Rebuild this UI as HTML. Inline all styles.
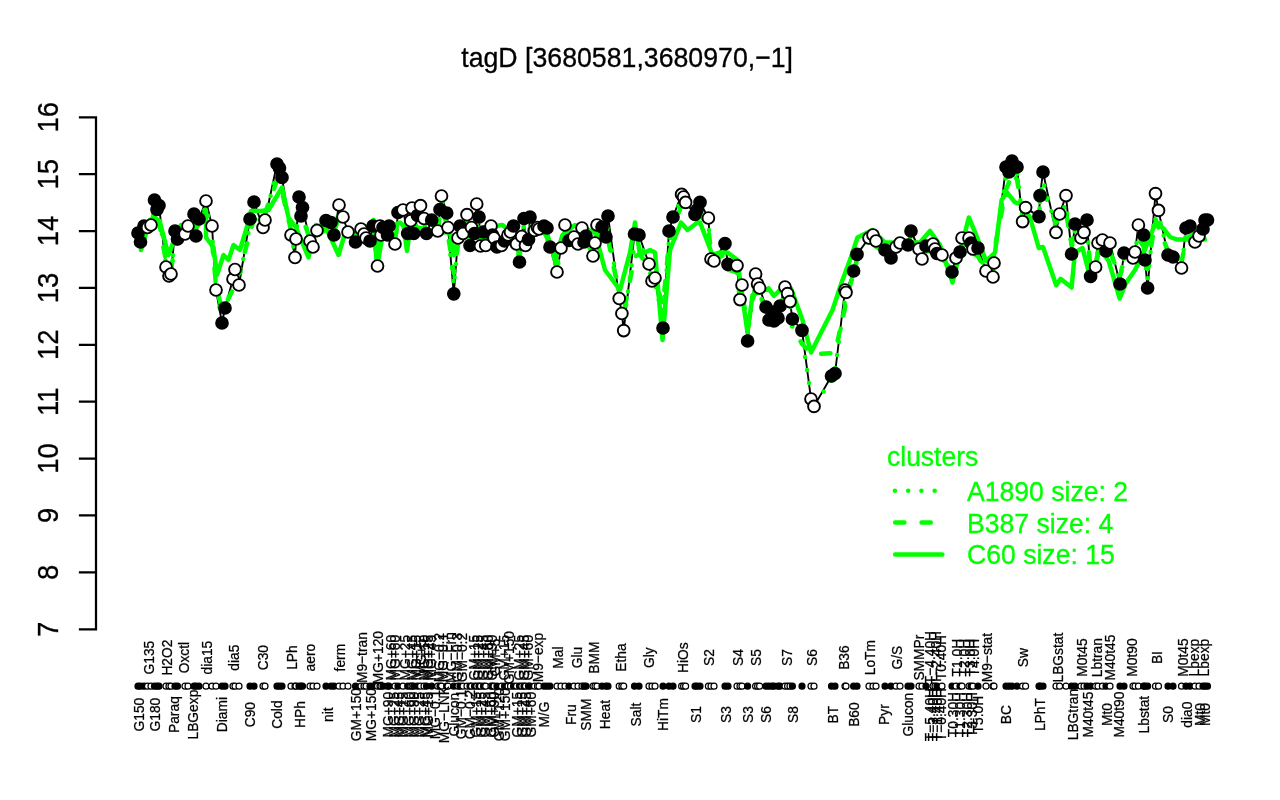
<!DOCTYPE html><html><head><meta charset="utf-8"><title>tagD</title><style>
html,body{margin:0;padding:0;background:#fff;}
svg{display:block;will-change:transform;}
text{-webkit-font-smoothing:antialiased;}
text{font-family:"Liberation Sans",Arial,Helvetica,sans-serif;}
</style></head><body>
<svg width="1280" height="800" viewBox="0 0 1280 800">
<rect width="1280" height="800" fill="#fff"/>
<text transform="translate(627.1,67) scale(1,1.065)" font-size="26.7" text-anchor="middle" fill="#000" stroke="#000" stroke-width="0.3">tagD [3680581,3680970,−1]</text>
<path d="M96,117.25V629.25M80,629.25H96M80,572.36H96M80,515.47H96M80,458.58H96M80,401.69H96M80,344.81H96M80,287.92H96M80,231.03H96M80,174.14H96M80,117.25H96" stroke="#000" stroke-width="2.25" fill="none" stroke-linecap="square"/>
<text transform="translate(58.1,629.25) rotate(-90) scale(1,1.065)" font-size="27.5" text-anchor="middle" stroke="#000" stroke-width="0.3">7</text>
<text transform="translate(58.1,572.36) rotate(-90) scale(1,1.065)" font-size="27.5" text-anchor="middle" stroke="#000" stroke-width="0.3">8</text>
<text transform="translate(58.1,515.47) rotate(-90) scale(1,1.065)" font-size="27.5" text-anchor="middle" stroke="#000" stroke-width="0.3">9</text>
<text transform="translate(58.1,458.58) rotate(-90) scale(1,1.065)" font-size="27.5" text-anchor="middle" stroke="#000" stroke-width="0.3">10</text>
<text transform="translate(58.1,401.69) rotate(-90) scale(1,1.065)" font-size="27.5" text-anchor="middle" stroke="#000" stroke-width="0.3">11</text>
<text transform="translate(58.1,344.81) rotate(-90) scale(1,1.065)" font-size="27.5" text-anchor="middle" stroke="#000" stroke-width="0.3">12</text>
<text transform="translate(58.1,287.92) rotate(-90) scale(1,1.065)" font-size="27.5" text-anchor="middle" stroke="#000" stroke-width="0.3">13</text>
<text transform="translate(58.1,231.03) rotate(-90) scale(1,1.065)" font-size="27.5" text-anchor="middle" stroke="#000" stroke-width="0.3">14</text>
<text transform="translate(58.1,174.14) rotate(-90) scale(1,1.065)" font-size="27.5" text-anchor="middle" stroke="#000" stroke-width="0.3">15</text>
<text transform="translate(58.1,117.25) rotate(-90) scale(1,1.065)" font-size="27.5" text-anchor="middle" stroke="#000" stroke-width="0.3">16</text>
<path d="M138.0,233.0 L140.5,242.0 L144.0,226.0 L147.5,227.5 L151.0,225.0 L154.5,200.0 L157.0,209.5 L159.0,205.5 L166.0,267.0 L169.0,276.0 L171.0,274.0 L175.0,231.0 L177.5,239.0 L185.0,234.0 L188.0,226.0 L194.0,214.0 L196.0,236.0 L199.0,219.0 L206.0,201.0 L212.0,226.0 L216.0,290.0 L222.0,323.0 L225.0,308.0 L233.0,279.0 L235.0,269.5 L239.0,285.0 L250.0,219.0 L254.0,202.0 L263.0,227.5 L265.0,220.0 L277.0,164.0 L279.5,168.0 L282.0,177.5 L291.0,235.0 L295.0,257.5 L296.0,239.0 L299.0,197.0 L301.0,216.0 L302.5,207.5 L310.0,241.0 L313.0,247.0 L317.0,230.5 L326.0,220.5 L331.0,222.5 L334.0,235.0 L339.0,205.0 L343.0,217.0 L348.0,232.0 L355.5,242.0 L361.0,229.0 L364.0,234.0 L366.0,238.0 L370.0,241.0 L373.0,226.0 L377.5,266.0 L380.0,226.0 L381.0,235.0 L383.0,227.5 L387.5,235.0 L389.0,226.0 L395.0,244.0 L398.0,212.5 L403.0,210.0 L407.7,233.5 L410.7,220.7 L412.0,208.0 L413.7,233.5 L417.5,215.5 L420.5,205.7 L424.0,218.5 L426.5,233.5 L431.7,220.0 L437.7,231.0 L440.0,209.5 L441.5,196.0 L446.7,213.0 L448.0,227.5 L453.8,293.8 L458.0,238.0 L460.0,226.0 L463.0,233.5 L467.0,214.7 L470.0,245.5 L471.5,227.5 L474.5,233.5 L476.7,204.0 L479.0,217.0 L480.5,246.0 L483.5,232.0 L485.7,245.5 L491.0,226.0 L492.5,235.0 L494.0,238.0 L497.0,247.0 L501.5,245.5 L504.5,241.0 L508.0,235.0 L510.5,232.0 L513.5,226.0 L516.5,244.0 L519.5,262.0 L521.7,236.5 L524.0,218.5 L525.5,245.5 L528.5,239.5 L530.0,217.0 L534.5,230.5 L537.5,227.5 L539.0,229.0 L544.0,226.0 L547.0,228.0 L550.0,247.0 L557.0,272.0 L561.0,248.0 L565.0,225.0 L569.0,240.5 L574.0,237.0 L578.0,244.0 L582.0,228.0 L584.0,242.0 L586.0,236.0 L593.0,256.0 L595.0,243.0 L597.0,225.0 L602.0,227.0 L606.0,237.0 L608.0,216.0 L619.2,298.5 L621.9,313.5 L623.7,330.6 L634.5,234.0 L639.0,235.0 L649.0,264.0 L652.0,281.0 L655.0,278.0 L663.0,328.0 L669.0,231.0 L673.0,217.0 L681.6,194.4 L683.6,197.0 L685.6,202.4 L695.0,214.4 L697.0,210.0 L700.0,202.4 L708.4,218.0 L711.0,259.0 L714.0,261.0 L725.0,243.6 L728.0,264.4 L737.0,265.6 L740.0,299.6 L742.0,285.0 L747.6,341.0 L755.6,274.0 L757.6,284.0 L759.6,288.0 L766.0,307.0 L769.0,320.0 L772.0,312.0 L774.0,321.0 L778.0,318.0 L780.0,306.0 L785.0,287.0 L787.6,293.6 L790.0,301.6 L792.4,319.0 L802.0,330.4 L811.0,399.0 L814.0,406.4 L831.5,376.0 L835.0,373.5 L845.0,290.0 L846.0,292.4 L853.6,271.0 L857.0,254.4 L869.0,238.0 L873.0,235.0 L876.0,241.0 L885.0,250.0 L891.0,258.0 L896.0,247.0 L900.0,243.0 L908.0,245.0 L911.0,231.0 L919.0,249.0 L922.0,259.0 L926.0,246.0 L933.0,244.0 L935.0,249.0 L937.0,253.5 L942.0,255.0 L952.0,272.0 L956.0,258.0 L960.0,252.0 L962.0,238.0 L969.0,238.0 L971.0,243.0 L973.0,249.0 L978.0,248.0 L986.0,271.0 L993.0,277.0 L994.0,263.0 L1006.0,167.0 L1009.0,172.0 L1012.0,161.0 L1017.0,167.0 L1022.6,221.6 L1025.6,207.6 L1039.0,216.6 L1040.0,195.6 L1043.0,172.0 L1056.0,232.4 L1059.6,214.0 L1066.0,195.6 L1071.6,254.0 L1075.0,224.0 L1081.0,238.0 L1084.0,232.4 L1087.0,220.0 L1090.6,276.4 L1095.6,267.0 L1098.0,243.0 L1102.4,240.0 L1106.0,251.0 L1110.0,243.0 L1120.0,284.0 L1124.0,253.0 L1133.0,258.0 L1135.0,252.0 L1138.4,225.0 L1143.6,235.0 L1145.0,260.0 L1147.6,288.0 L1155.5,193.6 L1158.5,210.4 L1168.0,255.0 L1173.0,257.0 L1181.5,268.0 L1186.0,228.0 L1190.0,226.0 L1195.0,242.0 L1199.0,236.0 L1203.0,229.0 L1205.0,220.0 L1207.5,220.0" stroke="#000" stroke-width="1.9" fill="none" stroke-linejoin="round"/>
<path d="M138.0,237.3 L140.5,241.6 L144.0,232.1 L147.5,230.0 L151.0,225.7 L154.5,210.1 L157.0,218.9 L159.0,221.2 L166.0,261.7 L169.0,268.6 L171.0,270.5 L175.0,243.9 L177.5,243.8 L185.0,235.7 L188.0,231.7 L194.0,223.3 L196.0,232.4 L199.0,223.1 L206.0,220.0 L212.0,241.6 L216.0,284.8 L222.0,310.0 L225.0,305.7 L233.0,289.3 L235.0,274.7 L239.0,273.7 L250.0,232.7 L254.0,218.9 L263.0,222.1 L265.0,213.3 L277.0,180.3 L279.5,183.2 L282.0,191.8 L291.0,230.2 L295.0,245.2 L296.0,238.5 L299.0,212.9 L301.0,221.8 L302.5,217.9 L310.0,239.3 L313.0,243.0 L317.0,235.3 L326.0,229.3 L331.0,226.6 L334.0,232.2 L339.0,216.8 L343.0,225.1 L348.0,232.8 L355.5,241.0 L361.0,235.7 L364.0,239.3 L366.0,240.0 L370.0,245.0 L373.0,236.0 L377.5,257.8 L380.0,234.5 L381.0,240.3 L383.0,232.6 L387.5,238.3 L389.0,231.3 L395.0,239.7 L398.0,222.2 L403.0,220.4 L407.7,230.0 L410.7,224.9 L412.0,218.4 L413.7,229.9 L417.5,219.8 L420.5,216.7 L424.0,222.6 L426.5,232.2 L431.7,225.1 L437.7,229.2 L440.0,215.5 L441.5,208.7 L446.7,223.7 L448.0,234.3 L453.8,273.4 L458.0,244.6 L460.0,236.8 L463.0,236.6 L467.0,225.3 L470.0,242.9 L471.5,230.4 L474.5,233.9 L476.7,217.7 L479.0,225.3 L480.5,242.3 L483.5,236.6 L485.7,245.6 L491.0,234.2 L492.5,240.5 L494.0,242.1 L497.0,248.4 L501.5,247.6 L504.5,244.6 L508.0,239.4 L510.5,237.6 L513.5,236.2 L516.5,246.2 L519.5,254.9 L521.7,242.7 L524.0,232.4 L525.5,243.2 L528.5,239.3 L530.0,227.8 L534.5,233.7 L537.5,230.8 L539.0,232.6 L544.0,232.5 L547.0,237.6 L550.0,249.7 L557.0,263.4 L561.0,251.3 L565.0,237.8 L569.0,243.8 L574.0,240.1 L578.0,245.4 L582.0,236.2 L584.0,245.6 L586.0,242.2 L593.0,253.0 L595.0,244.5 L597.0,234.7 L602.0,232.2 L606.0,242.7 L608.0,239.1 L619.2,293.8 L621.9,301.8 L623.7,312.9 L634.5,256.6 L639.0,254.3 L649.0,265.5 L652.0,283.3 L655.0,281.3 L663.0,304.6 L669.0,243.4 L673.0,228.4 L681.6,204.7 L683.6,204.6 L685.6,207.0 L695.0,214.3 L697.0,213.7 L700.0,214.7 L708.4,227.4 L711.0,253.0 L714.0,259.7 L725.0,254.4 L728.0,269.5 L737.0,272.3 L740.0,299.8 L742.0,292.6 L747.6,325.1 L755.6,287.2 L757.6,294.7 L759.6,295.0 L766.0,308.8 L769.0,319.3 L772.0,317.6 L774.0,322.5 L778.0,317.9 L780.0,309.6 L785.0,297.4 L787.6,301.1 L790.0,307.7 L792.4,327.4 L802.0,343.8 L811.0,353.8 L814.0,354.3 L831.5,353.2 L835.0,352.7 L845.0,307.8 L846.0,298.1 L853.6,274.2 L857.0,260.1 L869.0,246.4 L873.0,242.9 L876.0,246.5 L885.0,252.3 L891.0,257.4 L896.0,251.7 L900.0,247.8 L908.0,248.1 L911.0,241.5 L919.0,251.7 L922.0,257.1 L926.0,251.5 L933.0,250.8 L935.0,253.2 L937.0,258.0 L942.0,260.1 L952.0,269.7 L956.0,260.6 L960.0,255.8 L962.0,245.5 L969.0,244.7 L971.0,247.1 L973.0,253.4 L978.0,256.3 L986.0,270.8 L993.0,266.7 L994.0,252.1 L1006.0,189.4 L1009.0,182.3 L1012.0,172.5 L1017.0,179.5 L1022.6,213.5 L1025.6,208.9 L1039.0,214.3 L1040.0,203.8 L1043.0,191.4 L1056.0,222.7 L1059.6,217.8 L1066.0,212.4 L1071.6,245.0 L1075.0,230.2 L1081.0,240.1 L1084.0,239.0 L1087.0,236.0 L1090.6,267.5 L1095.6,263.0 L1098.0,252.6 L1102.4,248.0 L1106.0,255.5 L1110.0,252.0 L1120.0,276.2 L1124.0,259.2 L1133.0,260.4 L1135.0,252.7 L1138.4,238.4 L1143.6,246.6 L1145.0,255.1 L1147.6,269.2 L1155.5,219.1 L1158.5,228.1 L1168.0,250.8 L1173.0,255.0 L1181.5,262.5 L1186.0,239.3 L1190.0,236.3 L1195.0,241.6 L1199.0,237.6 L1203.0,233.2 L1205.0,226.8 L1207.5,225.4" stroke="#00ff00" stroke-width="4.5" fill="none" stroke-dasharray="9.2 17.2" stroke-linecap="round" stroke-linejoin="round"/>
<path d="M138.0,236.1 L140.5,241.9 L144.0,229.5 L147.5,229.2 L151.0,225.1 L154.5,204.9 L157.0,210.4 L159.0,213.0 L166.0,264.6 L169.0,277.1 L171.0,272.6 L175.0,237.2 L177.5,239.9 L185.0,235.8 L188.0,227.7 L194.0,218.8 L196.0,234.8 L199.0,220.9 L206.0,206.6 L212.0,231.2 L216.0,289.4 L222.0,321.0 L225.0,308.8 L233.0,282.6 L235.0,273.6 L239.0,280.2 L250.0,225.1 L254.0,207.5 L263.0,226.8 L265.0,218.0 L277.0,171.0 L279.5,170.5 L282.0,183.5 L291.0,234.1 L295.0,256.1 L296.0,239.0 L299.0,204.1 L301.0,215.7 L302.5,213.0 L310.0,240.7 L313.0,247.1 L317.0,233.0 L326.0,223.5 L331.0,225.4 L334.0,233.5 L339.0,210.5 L343.0,219.2 L348.0,233.6 L355.5,242.1 L361.0,232.5 L364.0,235.9 L366.0,239.9 L370.0,241.5 L373.0,232.6 L377.5,261.3 L380.0,232.1 L381.0,235.6 L383.0,230.8 L387.5,235.6 L389.0,230.2 L395.0,241.9 L398.0,216.9 L403.0,214.2 L407.7,232.5 L410.7,222.7 L412.0,213.2 L413.7,231.9 L417.5,218.2 L420.5,209.6 L424.0,220.7 L426.5,233.1 L431.7,224.0 L437.7,230.3 L440.0,212.2 L441.5,200.5 L446.7,214.8 L448.0,233.8 L453.8,285.6 L458.0,243.6 L460.0,229.6 L463.0,233.3 L467.0,220.8 L470.0,243.4 L471.5,231.5 L474.5,232.5 L476.7,209.5 L479.0,220.3 L480.5,244.4 L483.5,236.3 L485.7,244.8 L491.0,230.4 L492.5,236.5 L494.0,240.5 L497.0,248.1 L501.5,247.2 L504.5,242.9 L508.0,237.2 L510.5,233.8 L513.5,230.0 L516.5,246.0 L519.5,260.4 L521.7,239.1 L524.0,224.2 L525.5,244.8 L528.5,240.1 L530.0,222.0 L534.5,231.1 L537.5,229.9 L539.0,230.6 L544.0,228.4 L547.0,231.4 L550.0,249.5 L557.0,269.9 L561.0,250.1 L565.0,230.2 L569.0,240.9 L574.0,239.9 L578.0,244.1 L582.0,232.5 L584.0,242.3 L586.0,240.2 L593.0,255.2 L595.0,244.6 L597.0,228.7 L602.0,229.7 L606.0,236.4 L608.0,226.6 L619.2,294.9 L621.9,315.7 L623.7,323.1 L634.5,244.1 L639.0,239.3 L649.0,265.0 L652.0,281.3 L655.0,284.4 L663.0,317.8 L669.0,239.9 L673.0,218.3 L681.6,198.5 L683.6,199.2 L685.6,205.0 L695.0,215.0 L697.0,211.7 L700.0,206.3 L708.4,222.1 L711.0,257.8 L714.0,261.4 L725.0,248.8 L728.0,264.8 L737.0,270.3 L740.0,297.6 L742.0,292.9 L747.6,332.8 L755.6,282.4 L757.6,285.5 L759.6,291.2 L766.0,308.5 L769.0,320.2 L772.0,315.4 L774.0,322.0 L778.0,319.2 L780.0,307.4 L785.0,291.1 L787.6,295.7 L790.0,304.4 L792.4,320.5 L802.0,337.2 L811.0,395.9 L814.0,405.2 L831.5,380.3 L835.0,368.8 L845.0,299.2 L846.0,292.4 L853.6,273.4 L857.0,256.4 L869.0,241.1 L873.0,237.8 L876.0,243.2 L885.0,251.9 L891.0,258.4 L896.0,249.6 L900.0,245.5 L908.0,245.7 L911.0,235.7 L919.0,250.3 L922.0,259.1 L926.0,248.9 L933.0,246.6 L935.0,251.0 L937.0,255.2 L942.0,258.3 L952.0,271.4 L956.0,260.7 L960.0,253.3 L962.0,241.2 L969.0,240.4 L971.0,245.1 L973.0,250.4 L978.0,252.0 L986.0,271.6 L993.0,277.3 L994.0,258.2 L1006.0,177.4 L1009.0,172.7 L1012.0,164.4 L1017.0,173.1 L1022.6,217.9 L1025.6,211.5 L1039.0,216.1 L1040.0,197.4 L1043.0,181.0 L1056.0,227.8 L1059.6,216.0 L1066.0,204.0 L1071.6,248.6 L1075.0,229.7 L1081.0,238.4 L1084.0,233.8 L1087.0,227.7 L1090.6,272.9 L1095.6,267.8 L1098.0,246.8 L1102.4,243.2 L1106.0,251.4 L1110.0,249.1 L1120.0,280.0 L1124.0,258.0 L1133.0,259.1 L1135.0,252.2 L1138.4,230.1 L1143.6,238.2 L1145.0,262.2 L1147.6,279.8 L1155.5,204.9 L1158.5,214.7 L1168.0,253.4 L1173.0,259.8 L1181.5,265.8 L1186.0,233.2 L1190.0,229.5 L1195.0,242.2 L1199.0,237.9 L1203.0,230.8 L1205.0,222.8 L1207.5,222.0" stroke="#00ff00" stroke-width="4.5" fill="none" stroke-dasharray="0 13.2" stroke-linecap="round" stroke-linejoin="round"/>
<path d="M141.0,250.0 L150.0,220.0 L155.0,217.5 L160.0,222.5 L168.5,255.0 L176.0,235.0 L181.0,225.0 L188.5,235.0 L198.5,225.0 L206.0,210.0 L206.0,237.5 L213.5,247.5 L217.0,275.0 L223.5,255.0 L228.5,260.0 L233.5,245.0 L240.0,250.0 L246.0,230.0 L251.0,211.0 L261.0,211.0 L268.5,210.0 L282.0,187.5 L288.5,217.5 L296.0,227.5 L308.5,257.5 L316.0,225.0 L326.0,227.5 L338.5,255.0 L346.0,230.0 L361.0,235.0 L373.5,220.0 L377.0,267.0 L383.5,230.0 L400.0,222.5 L403.5,226.0 L407.0,251.0 L410.5,226.0 L420.0,228.0 L435.0,232.0 L450.0,232.5 L453.8,255.0 L460.0,235.0 L480.0,228.0 L502.5,225.0 L520.0,240.0 L535.0,228.0 L547.5,235.0 L555.0,260.0 L562.5,235.0 L575.0,225.0 L595.0,232.5 L605.0,270.0 L620.0,290.0 L630.0,252.5 L635.0,222.5 L640.0,255.0 L650.0,250.0 L655.0,252.5 L662.5,340.0 L670.0,250.0 L681.0,222.5 L687.5,230.0 L697.5,222.5 L700.0,222.5 L712.5,255.0 L720.0,252.5 L727.5,252.5 L737.5,260.0 L740.0,280.0 L747.5,332.5 L752.5,295.0 L760.0,292.0 L768.6,288.4 L773.9,296.0 L779.0,291.0 L791.0,288.5 L802.5,320.0 L811.0,352.5 L832.5,310.0 L842.5,280.0 L850.0,260.0 L857.5,237.5 L872.5,230.0 L885.0,242.5 L900.0,242.5 L920.0,242.5 L930.0,231.0 L940.0,245.0 L952.5,282.5 L968.8,217.5 L975.3,232.8 L986.2,261.3 L995.0,252.5 L1001.6,200.0 L1007.0,192.3 L1014.7,202.2 L1021.2,204.4 L1030.0,217.5 L1038.8,248.0 L1043.0,247.0 L1056.2,285.3 L1060.6,278.8 L1071.6,287.5 L1074.9,252.5 L1082.5,248.0 L1091.2,281.0 L1100.0,248.0 L1108.8,261.3 L1119.7,298.5 L1126.0,283.0 L1135.0,270.0 L1143.8,252.5 L1155.8,222.0 L1163.5,228.4 L1170.0,237.0 L1176.6,239.4 L1187.5,239.4 L1198.5,239.4 L1205.0,239.4" stroke="#00ff00" stroke-width="4.5" fill="none" stroke-linejoin="round" stroke-linecap="round"/>
<circle cx="138.0" cy="233.0" r="5.9" fill="#000" stroke="#000" stroke-width="1.9"/>
<circle cx="140.5" cy="242.0" r="5.9" fill="#000" stroke="#000" stroke-width="1.9"/>
<circle cx="144.0" cy="226.0" r="5.9" fill="#000" stroke="#000" stroke-width="1.9"/>
<circle cx="147.5" cy="227.5" r="5.9" fill="#fff" stroke="#000" stroke-width="1.9"/>
<circle cx="151.0" cy="225.0" r="5.9" fill="#fff" stroke="#000" stroke-width="1.9"/>
<circle cx="154.5" cy="200.0" r="5.9" fill="#000" stroke="#000" stroke-width="1.9"/>
<circle cx="157.0" cy="209.5" r="5.9" fill="#000" stroke="#000" stroke-width="1.9"/>
<circle cx="159.0" cy="205.5" r="5.9" fill="#000" stroke="#000" stroke-width="1.9"/>
<circle cx="166.0" cy="267.0" r="5.9" fill="#fff" stroke="#000" stroke-width="1.9"/>
<circle cx="169.0" cy="276.0" r="5.9" fill="#fff" stroke="#000" stroke-width="1.9"/>
<circle cx="171.0" cy="274.0" r="5.9" fill="#fff" stroke="#000" stroke-width="1.9"/>
<circle cx="175.0" cy="231.0" r="5.9" fill="#000" stroke="#000" stroke-width="1.9"/>
<circle cx="177.5" cy="239.0" r="5.9" fill="#000" stroke="#000" stroke-width="1.9"/>
<circle cx="185.0" cy="234.0" r="5.9" fill="#fff" stroke="#000" stroke-width="1.9"/>
<circle cx="188.0" cy="226.0" r="5.9" fill="#fff" stroke="#000" stroke-width="1.9"/>
<circle cx="194.0" cy="214.0" r="5.9" fill="#000" stroke="#000" stroke-width="1.9"/>
<circle cx="196.0" cy="236.0" r="5.9" fill="#000" stroke="#000" stroke-width="1.9"/>
<circle cx="199.0" cy="219.0" r="5.9" fill="#000" stroke="#000" stroke-width="1.9"/>
<circle cx="206.0" cy="201.0" r="5.9" fill="#fff" stroke="#000" stroke-width="1.9"/>
<circle cx="212.0" cy="226.0" r="5.9" fill="#fff" stroke="#000" stroke-width="1.9"/>
<circle cx="216.0" cy="290.0" r="5.9" fill="#fff" stroke="#000" stroke-width="1.9"/>
<circle cx="222.0" cy="323.0" r="5.9" fill="#000" stroke="#000" stroke-width="1.9"/>
<circle cx="225.0" cy="308.0" r="5.9" fill="#000" stroke="#000" stroke-width="1.9"/>
<circle cx="233.0" cy="279.0" r="5.9" fill="#fff" stroke="#000" stroke-width="1.9"/>
<circle cx="235.0" cy="269.5" r="5.9" fill="#fff" stroke="#000" stroke-width="1.9"/>
<circle cx="239.0" cy="285.0" r="5.9" fill="#fff" stroke="#000" stroke-width="1.9"/>
<circle cx="250.0" cy="219.0" r="5.9" fill="#000" stroke="#000" stroke-width="1.9"/>
<circle cx="254.0" cy="202.0" r="5.9" fill="#000" stroke="#000" stroke-width="1.9"/>
<circle cx="263.0" cy="227.5" r="5.9" fill="#fff" stroke="#000" stroke-width="1.9"/>
<circle cx="265.0" cy="220.0" r="5.9" fill="#fff" stroke="#000" stroke-width="1.9"/>
<circle cx="277.0" cy="164.0" r="5.9" fill="#000" stroke="#000" stroke-width="1.9"/>
<circle cx="279.5" cy="168.0" r="5.9" fill="#000" stroke="#000" stroke-width="1.9"/>
<circle cx="282.0" cy="177.5" r="5.9" fill="#000" stroke="#000" stroke-width="1.9"/>
<circle cx="291.0" cy="235.0" r="5.9" fill="#fff" stroke="#000" stroke-width="1.9"/>
<circle cx="295.0" cy="257.5" r="5.9" fill="#fff" stroke="#000" stroke-width="1.9"/>
<circle cx="296.0" cy="239.0" r="5.9" fill="#fff" stroke="#000" stroke-width="1.9"/>
<circle cx="299.0" cy="197.0" r="5.9" fill="#000" stroke="#000" stroke-width="1.9"/>
<circle cx="301.0" cy="216.0" r="5.9" fill="#000" stroke="#000" stroke-width="1.9"/>
<circle cx="302.5" cy="207.5" r="5.9" fill="#000" stroke="#000" stroke-width="1.9"/>
<circle cx="310.0" cy="241.0" r="5.9" fill="#fff" stroke="#000" stroke-width="1.9"/>
<circle cx="313.0" cy="247.0" r="5.9" fill="#fff" stroke="#000" stroke-width="1.9"/>
<circle cx="317.0" cy="230.5" r="5.9" fill="#fff" stroke="#000" stroke-width="1.9"/>
<circle cx="326.0" cy="220.5" r="5.9" fill="#000" stroke="#000" stroke-width="1.9"/>
<circle cx="331.0" cy="222.5" r="5.9" fill="#000" stroke="#000" stroke-width="1.9"/>
<circle cx="334.0" cy="235.0" r="5.9" fill="#000" stroke="#000" stroke-width="1.9"/>
<circle cx="339.0" cy="205.0" r="5.9" fill="#fff" stroke="#000" stroke-width="1.9"/>
<circle cx="343.0" cy="217.0" r="5.9" fill="#fff" stroke="#000" stroke-width="1.9"/>
<circle cx="348.0" cy="232.0" r="5.9" fill="#fff" stroke="#000" stroke-width="1.9"/>
<circle cx="355.5" cy="242.0" r="5.9" fill="#000" stroke="#000" stroke-width="1.9"/>
<circle cx="361.0" cy="229.0" r="5.9" fill="#fff" stroke="#000" stroke-width="1.9"/>
<circle cx="364.0" cy="234.0" r="5.9" fill="#fff" stroke="#000" stroke-width="1.9"/>
<circle cx="366.0" cy="238.0" r="5.9" fill="#fff" stroke="#000" stroke-width="1.9"/>
<circle cx="370.0" cy="241.0" r="5.9" fill="#000" stroke="#000" stroke-width="1.9"/>
<circle cx="373.0" cy="226.0" r="5.9" fill="#000" stroke="#000" stroke-width="1.9"/>
<circle cx="377.5" cy="266.0" r="5.9" fill="#fff" stroke="#000" stroke-width="1.9"/>
<circle cx="380.0" cy="226.0" r="5.9" fill="#fff" stroke="#000" stroke-width="1.9"/>
<circle cx="381.0" cy="235.0" r="5.9" fill="#fff" stroke="#000" stroke-width="1.9"/>
<circle cx="383.0" cy="227.5" r="5.9" fill="#000" stroke="#000" stroke-width="1.9"/>
<circle cx="387.5" cy="235.0" r="5.9" fill="#000" stroke="#000" stroke-width="1.9"/>
<circle cx="389.0" cy="226.0" r="5.9" fill="#000" stroke="#000" stroke-width="1.9"/>
<circle cx="395.0" cy="244.0" r="5.9" fill="#fff" stroke="#000" stroke-width="1.9"/>
<circle cx="398.0" cy="212.5" r="5.9" fill="#000" stroke="#000" stroke-width="1.9"/>
<circle cx="403.0" cy="210.0" r="5.9" fill="#fff" stroke="#000" stroke-width="1.9"/>
<circle cx="407.7" cy="233.5" r="5.9" fill="#000" stroke="#000" stroke-width="1.9"/>
<circle cx="410.7" cy="220.7" r="5.9" fill="#fff" stroke="#000" stroke-width="1.9"/>
<circle cx="412.0" cy="208.0" r="5.9" fill="#fff" stroke="#000" stroke-width="1.9"/>
<circle cx="413.7" cy="233.5" r="5.9" fill="#000" stroke="#000" stroke-width="1.9"/>
<circle cx="417.5" cy="215.5" r="5.9" fill="#000" stroke="#000" stroke-width="1.9"/>
<circle cx="420.5" cy="205.7" r="5.9" fill="#fff" stroke="#000" stroke-width="1.9"/>
<circle cx="424.0" cy="218.5" r="5.9" fill="#fff" stroke="#000" stroke-width="1.9"/>
<circle cx="426.5" cy="233.5" r="5.9" fill="#000" stroke="#000" stroke-width="1.9"/>
<circle cx="431.7" cy="220.0" r="5.9" fill="#000" stroke="#000" stroke-width="1.9"/>
<circle cx="437.7" cy="231.0" r="5.9" fill="#fff" stroke="#000" stroke-width="1.9"/>
<circle cx="440.0" cy="209.5" r="5.9" fill="#000" stroke="#000" stroke-width="1.9"/>
<circle cx="441.5" cy="196.0" r="5.9" fill="#fff" stroke="#000" stroke-width="1.9"/>
<circle cx="446.7" cy="213.0" r="5.9" fill="#000" stroke="#000" stroke-width="1.9"/>
<circle cx="448.0" cy="227.5" r="5.9" fill="#fff" stroke="#000" stroke-width="1.9"/>
<circle cx="453.8" cy="293.8" r="5.9" fill="#000" stroke="#000" stroke-width="1.9"/>
<circle cx="458.0" cy="238.0" r="5.9" fill="#fff" stroke="#000" stroke-width="1.9"/>
<circle cx="460.0" cy="226.0" r="5.9" fill="#000" stroke="#000" stroke-width="1.9"/>
<circle cx="463.0" cy="233.5" r="5.9" fill="#fff" stroke="#000" stroke-width="1.9"/>
<circle cx="467.0" cy="214.7" r="5.9" fill="#fff" stroke="#000" stroke-width="1.9"/>
<circle cx="470.0" cy="245.5" r="5.9" fill="#000" stroke="#000" stroke-width="1.9"/>
<circle cx="471.5" cy="227.5" r="5.9" fill="#fff" stroke="#000" stroke-width="1.9"/>
<circle cx="474.5" cy="233.5" r="5.9" fill="#000" stroke="#000" stroke-width="1.9"/>
<circle cx="476.7" cy="204.0" r="5.9" fill="#fff" stroke="#000" stroke-width="1.9"/>
<circle cx="479.0" cy="217.0" r="5.9" fill="#000" stroke="#000" stroke-width="1.9"/>
<circle cx="480.5" cy="246.0" r="5.9" fill="#fff" stroke="#000" stroke-width="1.9"/>
<circle cx="483.5" cy="232.0" r="5.9" fill="#000" stroke="#000" stroke-width="1.9"/>
<circle cx="485.7" cy="245.5" r="5.9" fill="#fff" stroke="#000" stroke-width="1.9"/>
<circle cx="491.0" cy="226.0" r="5.9" fill="#fff" stroke="#000" stroke-width="1.9"/>
<circle cx="492.5" cy="235.0" r="5.9" fill="#000" stroke="#000" stroke-width="1.9"/>
<circle cx="494.0" cy="238.0" r="5.9" fill="#fff" stroke="#000" stroke-width="1.9"/>
<circle cx="497.0" cy="247.0" r="5.9" fill="#000" stroke="#000" stroke-width="1.9"/>
<circle cx="501.5" cy="245.5" r="5.9" fill="#fff" stroke="#000" stroke-width="1.9"/>
<circle cx="504.5" cy="241.0" r="5.9" fill="#000" stroke="#000" stroke-width="1.9"/>
<circle cx="508.0" cy="235.0" r="5.9" fill="#fff" stroke="#000" stroke-width="1.9"/>
<circle cx="510.5" cy="232.0" r="5.9" fill="#fff" stroke="#000" stroke-width="1.9"/>
<circle cx="513.5" cy="226.0" r="5.9" fill="#000" stroke="#000" stroke-width="1.9"/>
<circle cx="516.5" cy="244.0" r="5.9" fill="#fff" stroke="#000" stroke-width="1.9"/>
<circle cx="519.5" cy="262.0" r="5.9" fill="#000" stroke="#000" stroke-width="1.9"/>
<circle cx="521.7" cy="236.5" r="5.9" fill="#fff" stroke="#000" stroke-width="1.9"/>
<circle cx="524.0" cy="218.5" r="5.9" fill="#000" stroke="#000" stroke-width="1.9"/>
<circle cx="525.5" cy="245.5" r="5.9" fill="#fff" stroke="#000" stroke-width="1.9"/>
<circle cx="528.5" cy="239.5" r="5.9" fill="#000" stroke="#000" stroke-width="1.9"/>
<circle cx="530.0" cy="217.0" r="5.9" fill="#000" stroke="#000" stroke-width="1.9"/>
<circle cx="534.5" cy="230.5" r="5.9" fill="#fff" stroke="#000" stroke-width="1.9"/>
<circle cx="537.5" cy="227.5" r="5.9" fill="#fff" stroke="#000" stroke-width="1.9"/>
<circle cx="539.0" cy="229.0" r="5.9" fill="#fff" stroke="#000" stroke-width="1.9"/>
<circle cx="544.0" cy="226.0" r="5.9" fill="#000" stroke="#000" stroke-width="1.9"/>
<circle cx="547.0" cy="228.0" r="5.9" fill="#000" stroke="#000" stroke-width="1.9"/>
<circle cx="550.0" cy="247.0" r="5.9" fill="#000" stroke="#000" stroke-width="1.9"/>
<circle cx="557.0" cy="272.0" r="5.9" fill="#fff" stroke="#000" stroke-width="1.9"/>
<circle cx="561.0" cy="248.0" r="5.9" fill="#fff" stroke="#000" stroke-width="1.9"/>
<circle cx="565.0" cy="225.0" r="5.9" fill="#fff" stroke="#000" stroke-width="1.9"/>
<circle cx="569.0" cy="240.5" r="5.9" fill="#000" stroke="#000" stroke-width="1.9"/>
<circle cx="574.0" cy="237.0" r="5.9" fill="#fff" stroke="#000" stroke-width="1.9"/>
<circle cx="578.0" cy="244.0" r="5.9" fill="#fff" stroke="#000" stroke-width="1.9"/>
<circle cx="582.0" cy="228.0" r="5.9" fill="#fff" stroke="#000" stroke-width="1.9"/>
<circle cx="584.0" cy="242.0" r="5.9" fill="#000" stroke="#000" stroke-width="1.9"/>
<circle cx="586.0" cy="236.0" r="5.9" fill="#000" stroke="#000" stroke-width="1.9"/>
<circle cx="593.0" cy="256.0" r="5.9" fill="#fff" stroke="#000" stroke-width="1.9"/>
<circle cx="595.0" cy="243.0" r="5.9" fill="#fff" stroke="#000" stroke-width="1.9"/>
<circle cx="597.0" cy="225.0" r="5.9" fill="#fff" stroke="#000" stroke-width="1.9"/>
<circle cx="602.0" cy="227.0" r="5.9" fill="#000" stroke="#000" stroke-width="1.9"/>
<circle cx="606.0" cy="237.0" r="5.9" fill="#000" stroke="#000" stroke-width="1.9"/>
<circle cx="608.0" cy="216.0" r="5.9" fill="#000" stroke="#000" stroke-width="1.9"/>
<circle cx="619.2" cy="298.5" r="5.9" fill="#fff" stroke="#000" stroke-width="1.9"/>
<circle cx="621.9" cy="313.5" r="5.9" fill="#fff" stroke="#000" stroke-width="1.9"/>
<circle cx="623.7" cy="330.6" r="5.9" fill="#fff" stroke="#000" stroke-width="1.9"/>
<circle cx="634.5" cy="234.0" r="5.9" fill="#000" stroke="#000" stroke-width="1.9"/>
<circle cx="639.0" cy="235.0" r="5.9" fill="#000" stroke="#000" stroke-width="1.9"/>
<circle cx="649.0" cy="264.0" r="5.9" fill="#fff" stroke="#000" stroke-width="1.9"/>
<circle cx="652.0" cy="281.0" r="5.9" fill="#fff" stroke="#000" stroke-width="1.9"/>
<circle cx="655.0" cy="278.0" r="5.9" fill="#fff" stroke="#000" stroke-width="1.9"/>
<circle cx="663.0" cy="328.0" r="5.9" fill="#000" stroke="#000" stroke-width="1.9"/>
<circle cx="669.0" cy="231.0" r="5.9" fill="#000" stroke="#000" stroke-width="1.9"/>
<circle cx="673.0" cy="217.0" r="5.9" fill="#000" stroke="#000" stroke-width="1.9"/>
<circle cx="681.6" cy="194.4" r="5.9" fill="#fff" stroke="#000" stroke-width="1.9"/>
<circle cx="683.6" cy="197.0" r="5.9" fill="#fff" stroke="#000" stroke-width="1.9"/>
<circle cx="685.6" cy="202.4" r="5.9" fill="#fff" stroke="#000" stroke-width="1.9"/>
<circle cx="695.0" cy="214.4" r="5.9" fill="#000" stroke="#000" stroke-width="1.9"/>
<circle cx="697.0" cy="210.0" r="5.9" fill="#000" stroke="#000" stroke-width="1.9"/>
<circle cx="700.0" cy="202.4" r="5.9" fill="#000" stroke="#000" stroke-width="1.9"/>
<circle cx="708.4" cy="218.0" r="5.9" fill="#fff" stroke="#000" stroke-width="1.9"/>
<circle cx="711.0" cy="259.0" r="5.9" fill="#fff" stroke="#000" stroke-width="1.9"/>
<circle cx="714.0" cy="261.0" r="5.9" fill="#fff" stroke="#000" stroke-width="1.9"/>
<circle cx="725.0" cy="243.6" r="5.9" fill="#000" stroke="#000" stroke-width="1.9"/>
<circle cx="728.0" cy="264.4" r="5.9" fill="#000" stroke="#000" stroke-width="1.9"/>
<circle cx="737.0" cy="265.6" r="5.9" fill="#fff" stroke="#000" stroke-width="1.9"/>
<circle cx="740.0" cy="299.6" r="5.9" fill="#fff" stroke="#000" stroke-width="1.9"/>
<circle cx="742.0" cy="285.0" r="5.9" fill="#fff" stroke="#000" stroke-width="1.9"/>
<circle cx="747.6" cy="341.0" r="5.9" fill="#000" stroke="#000" stroke-width="1.9"/>
<circle cx="755.6" cy="274.0" r="5.9" fill="#fff" stroke="#000" stroke-width="1.9"/>
<circle cx="757.6" cy="284.0" r="5.9" fill="#fff" stroke="#000" stroke-width="1.9"/>
<circle cx="759.6" cy="288.0" r="5.9" fill="#fff" stroke="#000" stroke-width="1.9"/>
<circle cx="766.0" cy="307.0" r="5.9" fill="#000" stroke="#000" stroke-width="1.9"/>
<circle cx="769.0" cy="320.0" r="5.9" fill="#000" stroke="#000" stroke-width="1.9"/>
<circle cx="772.0" cy="312.0" r="5.9" fill="#000" stroke="#000" stroke-width="1.9"/>
<circle cx="774.0" cy="321.0" r="5.9" fill="#000" stroke="#000" stroke-width="1.9"/>
<circle cx="778.0" cy="318.0" r="5.9" fill="#000" stroke="#000" stroke-width="1.9"/>
<circle cx="780.0" cy="306.0" r="5.9" fill="#000" stroke="#000" stroke-width="1.9"/>
<circle cx="785.0" cy="287.0" r="5.9" fill="#fff" stroke="#000" stroke-width="1.9"/>
<circle cx="787.6" cy="293.6" r="5.9" fill="#fff" stroke="#000" stroke-width="1.9"/>
<circle cx="790.0" cy="301.6" r="5.9" fill="#fff" stroke="#000" stroke-width="1.9"/>
<circle cx="792.4" cy="319.0" r="5.9" fill="#000" stroke="#000" stroke-width="1.9"/>
<circle cx="802.0" cy="330.4" r="5.9" fill="#000" stroke="#000" stroke-width="1.9"/>
<circle cx="811.0" cy="399.0" r="5.9" fill="#fff" stroke="#000" stroke-width="1.9"/>
<circle cx="814.0" cy="406.4" r="5.9" fill="#fff" stroke="#000" stroke-width="1.9"/>
<circle cx="831.5" cy="376.0" r="5.9" fill="#000" stroke="#000" stroke-width="1.9"/>
<circle cx="835.0" cy="373.5" r="5.9" fill="#000" stroke="#000" stroke-width="1.9"/>
<circle cx="845.0" cy="290.0" r="5.9" fill="#fff" stroke="#000" stroke-width="1.9"/>
<circle cx="846.0" cy="292.4" r="5.9" fill="#fff" stroke="#000" stroke-width="1.9"/>
<circle cx="853.6" cy="271.0" r="5.9" fill="#000" stroke="#000" stroke-width="1.9"/>
<circle cx="857.0" cy="254.4" r="5.9" fill="#000" stroke="#000" stroke-width="1.9"/>
<circle cx="869.0" cy="238.0" r="5.9" fill="#fff" stroke="#000" stroke-width="1.9"/>
<circle cx="873.0" cy="235.0" r="5.9" fill="#fff" stroke="#000" stroke-width="1.9"/>
<circle cx="876.0" cy="241.0" r="5.9" fill="#fff" stroke="#000" stroke-width="1.9"/>
<circle cx="885.0" cy="250.0" r="5.9" fill="#000" stroke="#000" stroke-width="1.9"/>
<circle cx="891.0" cy="258.0" r="5.9" fill="#000" stroke="#000" stroke-width="1.9"/>
<circle cx="896.0" cy="247.0" r="5.9" fill="#fff" stroke="#000" stroke-width="1.9"/>
<circle cx="900.0" cy="243.0" r="5.9" fill="#fff" stroke="#000" stroke-width="1.9"/>
<circle cx="908.0" cy="245.0" r="5.9" fill="#000" stroke="#000" stroke-width="1.9"/>
<circle cx="911.0" cy="231.0" r="5.9" fill="#000" stroke="#000" stroke-width="1.9"/>
<circle cx="919.0" cy="249.0" r="5.9" fill="#fff" stroke="#000" stroke-width="1.9"/>
<circle cx="922.0" cy="259.0" r="5.9" fill="#fff" stroke="#000" stroke-width="1.9"/>
<circle cx="926.0" cy="246.0" r="5.9" fill="#000" stroke="#000" stroke-width="1.9"/>
<circle cx="933.0" cy="244.0" r="5.9" fill="#fff" stroke="#000" stroke-width="1.9"/>
<circle cx="935.0" cy="249.0" r="5.9" fill="#fff" stroke="#000" stroke-width="1.9"/>
<circle cx="937.0" cy="253.5" r="5.9" fill="#000" stroke="#000" stroke-width="1.9"/>
<circle cx="942.0" cy="255.0" r="5.9" fill="#fff" stroke="#000" stroke-width="1.9"/>
<circle cx="952.0" cy="272.0" r="5.9" fill="#000" stroke="#000" stroke-width="1.9"/>
<circle cx="956.0" cy="258.0" r="5.9" fill="#fff" stroke="#000" stroke-width="1.9"/>
<circle cx="960.0" cy="252.0" r="5.9" fill="#000" stroke="#000" stroke-width="1.9"/>
<circle cx="962.0" cy="238.0" r="5.9" fill="#fff" stroke="#000" stroke-width="1.9"/>
<circle cx="969.0" cy="238.0" r="5.9" fill="#fff" stroke="#000" stroke-width="1.9"/>
<circle cx="971.0" cy="243.0" r="5.9" fill="#000" stroke="#000" stroke-width="1.9"/>
<circle cx="973.0" cy="249.0" r="5.9" fill="#fff" stroke="#000" stroke-width="1.9"/>
<circle cx="978.0" cy="248.0" r="5.9" fill="#000" stroke="#000" stroke-width="1.9"/>
<circle cx="986.0" cy="271.0" r="5.9" fill="#fff" stroke="#000" stroke-width="1.9"/>
<circle cx="993.0" cy="277.0" r="5.9" fill="#fff" stroke="#000" stroke-width="1.9"/>
<circle cx="994.0" cy="263.0" r="5.9" fill="#fff" stroke="#000" stroke-width="1.9"/>
<circle cx="1006.0" cy="167.0" r="5.9" fill="#000" stroke="#000" stroke-width="1.9"/>
<circle cx="1009.0" cy="172.0" r="5.9" fill="#000" stroke="#000" stroke-width="1.9"/>
<circle cx="1012.0" cy="161.0" r="5.9" fill="#000" stroke="#000" stroke-width="1.9"/>
<circle cx="1017.0" cy="167.0" r="5.9" fill="#000" stroke="#000" stroke-width="1.9"/>
<circle cx="1022.6" cy="221.6" r="5.9" fill="#fff" stroke="#000" stroke-width="1.9"/>
<circle cx="1025.6" cy="207.6" r="5.9" fill="#fff" stroke="#000" stroke-width="1.9"/>
<circle cx="1039.0" cy="216.6" r="5.9" fill="#000" stroke="#000" stroke-width="1.9"/>
<circle cx="1040.0" cy="195.6" r="5.9" fill="#000" stroke="#000" stroke-width="1.9"/>
<circle cx="1043.0" cy="172.0" r="5.9" fill="#000" stroke="#000" stroke-width="1.9"/>
<circle cx="1056.0" cy="232.4" r="5.9" fill="#fff" stroke="#000" stroke-width="1.9"/>
<circle cx="1059.6" cy="214.0" r="5.9" fill="#fff" stroke="#000" stroke-width="1.9"/>
<circle cx="1066.0" cy="195.6" r="5.9" fill="#fff" stroke="#000" stroke-width="1.9"/>
<circle cx="1071.6" cy="254.0" r="5.9" fill="#000" stroke="#000" stroke-width="1.9"/>
<circle cx="1075.0" cy="224.0" r="5.9" fill="#000" stroke="#000" stroke-width="1.9"/>
<circle cx="1081.0" cy="238.0" r="5.9" fill="#fff" stroke="#000" stroke-width="1.9"/>
<circle cx="1084.0" cy="232.4" r="5.9" fill="#fff" stroke="#000" stroke-width="1.9"/>
<circle cx="1087.0" cy="220.0" r="5.9" fill="#000" stroke="#000" stroke-width="1.9"/>
<circle cx="1090.6" cy="276.4" r="5.9" fill="#000" stroke="#000" stroke-width="1.9"/>
<circle cx="1095.6" cy="267.0" r="5.9" fill="#fff" stroke="#000" stroke-width="1.9"/>
<circle cx="1098.0" cy="243.0" r="5.9" fill="#fff" stroke="#000" stroke-width="1.9"/>
<circle cx="1102.4" cy="240.0" r="5.9" fill="#fff" stroke="#000" stroke-width="1.9"/>
<circle cx="1106.0" cy="251.0" r="5.9" fill="#000" stroke="#000" stroke-width="1.9"/>
<circle cx="1110.0" cy="243.0" r="5.9" fill="#fff" stroke="#000" stroke-width="1.9"/>
<circle cx="1120.0" cy="284.0" r="5.9" fill="#000" stroke="#000" stroke-width="1.9"/>
<circle cx="1124.0" cy="253.0" r="5.9" fill="#000" stroke="#000" stroke-width="1.9"/>
<circle cx="1133.0" cy="258.0" r="5.9" fill="#fff" stroke="#000" stroke-width="1.9"/>
<circle cx="1135.0" cy="252.0" r="5.9" fill="#fff" stroke="#000" stroke-width="1.9"/>
<circle cx="1138.4" cy="225.0" r="5.9" fill="#fff" stroke="#000" stroke-width="1.9"/>
<circle cx="1143.6" cy="235.0" r="5.9" fill="#000" stroke="#000" stroke-width="1.9"/>
<circle cx="1145.0" cy="260.0" r="5.9" fill="#000" stroke="#000" stroke-width="1.9"/>
<circle cx="1147.6" cy="288.0" r="5.9" fill="#000" stroke="#000" stroke-width="1.9"/>
<circle cx="1155.5" cy="193.6" r="5.9" fill="#fff" stroke="#000" stroke-width="1.9"/>
<circle cx="1158.5" cy="210.4" r="5.9" fill="#fff" stroke="#000" stroke-width="1.9"/>
<circle cx="1168.0" cy="255.0" r="5.9" fill="#000" stroke="#000" stroke-width="1.9"/>
<circle cx="1173.0" cy="257.0" r="5.9" fill="#000" stroke="#000" stroke-width="1.9"/>
<circle cx="1181.5" cy="268.0" r="5.9" fill="#fff" stroke="#000" stroke-width="1.9"/>
<circle cx="1186.0" cy="228.0" r="5.9" fill="#000" stroke="#000" stroke-width="1.9"/>
<circle cx="1190.0" cy="226.0" r="5.9" fill="#000" stroke="#000" stroke-width="1.9"/>
<circle cx="1195.0" cy="242.0" r="5.9" fill="#fff" stroke="#000" stroke-width="1.9"/>
<circle cx="1199.0" cy="236.0" r="5.9" fill="#fff" stroke="#000" stroke-width="1.9"/>
<circle cx="1203.0" cy="229.0" r="5.9" fill="#000" stroke="#000" stroke-width="1.9"/>
<circle cx="1205.0" cy="220.0" r="5.9" fill="#000" stroke="#000" stroke-width="1.9"/>
<circle cx="1207.5" cy="220.0" r="5.9" fill="#000" stroke="#000" stroke-width="1.9"/>
<circle cx="138.0" cy="686.2" r="3.0" fill="#000" stroke="#000" stroke-width="1.2"/>
<circle cx="140.5" cy="686.2" r="3.0" fill="#000" stroke="#000" stroke-width="1.2"/>
<circle cx="144.0" cy="686.2" r="3.0" fill="#000" stroke="#000" stroke-width="1.2"/>
<circle cx="147.5" cy="686.2" r="3.0" fill="#fff" stroke="#000" stroke-width="1.2"/>
<circle cx="151.0" cy="686.2" r="3.0" fill="#fff" stroke="#000" stroke-width="1.2"/>
<circle cx="154.5" cy="686.2" r="3.0" fill="#000" stroke="#000" stroke-width="1.2"/>
<circle cx="157.0" cy="686.2" r="3.0" fill="#000" stroke="#000" stroke-width="1.2"/>
<circle cx="159.0" cy="686.2" r="3.0" fill="#000" stroke="#000" stroke-width="1.2"/>
<circle cx="166.0" cy="686.2" r="3.0" fill="#fff" stroke="#000" stroke-width="1.2"/>
<circle cx="169.0" cy="686.2" r="3.0" fill="#fff" stroke="#000" stroke-width="1.2"/>
<circle cx="171.0" cy="686.2" r="3.0" fill="#fff" stroke="#000" stroke-width="1.2"/>
<circle cx="175.0" cy="686.2" r="3.0" fill="#000" stroke="#000" stroke-width="1.2"/>
<circle cx="177.5" cy="686.2" r="3.0" fill="#000" stroke="#000" stroke-width="1.2"/>
<circle cx="185.0" cy="686.2" r="3.0" fill="#fff" stroke="#000" stroke-width="1.2"/>
<circle cx="188.0" cy="686.2" r="3.0" fill="#fff" stroke="#000" stroke-width="1.2"/>
<circle cx="194.0" cy="686.2" r="3.0" fill="#000" stroke="#000" stroke-width="1.2"/>
<circle cx="196.0" cy="686.2" r="3.0" fill="#000" stroke="#000" stroke-width="1.2"/>
<circle cx="199.0" cy="686.2" r="3.0" fill="#000" stroke="#000" stroke-width="1.2"/>
<circle cx="206.0" cy="686.2" r="3.0" fill="#fff" stroke="#000" stroke-width="1.2"/>
<circle cx="212.0" cy="686.2" r="3.0" fill="#fff" stroke="#000" stroke-width="1.2"/>
<circle cx="216.0" cy="686.2" r="3.0" fill="#fff" stroke="#000" stroke-width="1.2"/>
<circle cx="222.0" cy="686.2" r="3.0" fill="#000" stroke="#000" stroke-width="1.2"/>
<circle cx="225.0" cy="686.2" r="3.0" fill="#000" stroke="#000" stroke-width="1.2"/>
<circle cx="233.0" cy="686.2" r="3.0" fill="#fff" stroke="#000" stroke-width="1.2"/>
<circle cx="235.0" cy="686.2" r="3.0" fill="#fff" stroke="#000" stroke-width="1.2"/>
<circle cx="239.0" cy="686.2" r="3.0" fill="#fff" stroke="#000" stroke-width="1.2"/>
<circle cx="250.0" cy="686.2" r="3.0" fill="#000" stroke="#000" stroke-width="1.2"/>
<circle cx="254.0" cy="686.2" r="3.0" fill="#000" stroke="#000" stroke-width="1.2"/>
<circle cx="263.0" cy="686.2" r="3.0" fill="#fff" stroke="#000" stroke-width="1.2"/>
<circle cx="265.0" cy="686.2" r="3.0" fill="#fff" stroke="#000" stroke-width="1.2"/>
<circle cx="277.0" cy="686.2" r="3.0" fill="#000" stroke="#000" stroke-width="1.2"/>
<circle cx="279.5" cy="686.2" r="3.0" fill="#000" stroke="#000" stroke-width="1.2"/>
<circle cx="282.0" cy="686.2" r="3.0" fill="#000" stroke="#000" stroke-width="1.2"/>
<circle cx="291.0" cy="686.2" r="3.0" fill="#fff" stroke="#000" stroke-width="1.2"/>
<circle cx="295.0" cy="686.2" r="3.0" fill="#fff" stroke="#000" stroke-width="1.2"/>
<circle cx="296.0" cy="686.2" r="3.0" fill="#fff" stroke="#000" stroke-width="1.2"/>
<circle cx="299.0" cy="686.2" r="3.0" fill="#000" stroke="#000" stroke-width="1.2"/>
<circle cx="301.0" cy="686.2" r="3.0" fill="#000" stroke="#000" stroke-width="1.2"/>
<circle cx="302.5" cy="686.2" r="3.0" fill="#000" stroke="#000" stroke-width="1.2"/>
<circle cx="310.0" cy="686.2" r="3.0" fill="#fff" stroke="#000" stroke-width="1.2"/>
<circle cx="313.0" cy="686.2" r="3.0" fill="#fff" stroke="#000" stroke-width="1.2"/>
<circle cx="317.0" cy="686.2" r="3.0" fill="#fff" stroke="#000" stroke-width="1.2"/>
<circle cx="326.0" cy="686.2" r="3.0" fill="#000" stroke="#000" stroke-width="1.2"/>
<circle cx="331.0" cy="686.2" r="3.0" fill="#000" stroke="#000" stroke-width="1.2"/>
<circle cx="334.0" cy="686.2" r="3.0" fill="#000" stroke="#000" stroke-width="1.2"/>
<circle cx="339.0" cy="686.2" r="3.0" fill="#fff" stroke="#000" stroke-width="1.2"/>
<circle cx="343.0" cy="686.2" r="3.0" fill="#fff" stroke="#000" stroke-width="1.2"/>
<circle cx="348.0" cy="686.2" r="3.0" fill="#fff" stroke="#000" stroke-width="1.2"/>
<circle cx="355.5" cy="686.2" r="3.0" fill="#000" stroke="#000" stroke-width="1.2"/>
<circle cx="361.0" cy="686.2" r="3.0" fill="#fff" stroke="#000" stroke-width="1.2"/>
<circle cx="364.0" cy="686.2" r="3.0" fill="#fff" stroke="#000" stroke-width="1.2"/>
<circle cx="366.0" cy="686.2" r="3.0" fill="#fff" stroke="#000" stroke-width="1.2"/>
<circle cx="370.0" cy="686.2" r="3.0" fill="#000" stroke="#000" stroke-width="1.2"/>
<circle cx="373.0" cy="686.2" r="3.0" fill="#000" stroke="#000" stroke-width="1.2"/>
<circle cx="377.5" cy="686.2" r="3.0" fill="#fff" stroke="#000" stroke-width="1.2"/>
<circle cx="380.0" cy="686.2" r="3.0" fill="#fff" stroke="#000" stroke-width="1.2"/>
<circle cx="381.0" cy="686.2" r="3.0" fill="#fff" stroke="#000" stroke-width="1.2"/>
<circle cx="383.0" cy="686.2" r="3.0" fill="#000" stroke="#000" stroke-width="1.2"/>
<circle cx="387.5" cy="686.2" r="3.0" fill="#000" stroke="#000" stroke-width="1.2"/>
<circle cx="389.0" cy="686.2" r="3.0" fill="#000" stroke="#000" stroke-width="1.2"/>
<circle cx="395.0" cy="686.2" r="3.0" fill="#fff" stroke="#000" stroke-width="1.2"/>
<circle cx="398.0" cy="686.2" r="3.0" fill="#000" stroke="#000" stroke-width="1.2"/>
<circle cx="403.0" cy="686.2" r="3.0" fill="#fff" stroke="#000" stroke-width="1.2"/>
<circle cx="407.7" cy="686.2" r="3.0" fill="#000" stroke="#000" stroke-width="1.2"/>
<circle cx="410.7" cy="686.2" r="3.0" fill="#fff" stroke="#000" stroke-width="1.2"/>
<circle cx="412.0" cy="686.2" r="3.0" fill="#fff" stroke="#000" stroke-width="1.2"/>
<circle cx="413.7" cy="686.2" r="3.0" fill="#000" stroke="#000" stroke-width="1.2"/>
<circle cx="417.5" cy="686.2" r="3.0" fill="#000" stroke="#000" stroke-width="1.2"/>
<circle cx="420.5" cy="686.2" r="3.0" fill="#fff" stroke="#000" stroke-width="1.2"/>
<circle cx="424.0" cy="686.2" r="3.0" fill="#fff" stroke="#000" stroke-width="1.2"/>
<circle cx="426.5" cy="686.2" r="3.0" fill="#000" stroke="#000" stroke-width="1.2"/>
<circle cx="431.7" cy="686.2" r="3.0" fill="#000" stroke="#000" stroke-width="1.2"/>
<circle cx="437.7" cy="686.2" r="3.0" fill="#fff" stroke="#000" stroke-width="1.2"/>
<circle cx="440.0" cy="686.2" r="3.0" fill="#000" stroke="#000" stroke-width="1.2"/>
<circle cx="441.5" cy="686.2" r="3.0" fill="#fff" stroke="#000" stroke-width="1.2"/>
<circle cx="446.7" cy="686.2" r="3.0" fill="#000" stroke="#000" stroke-width="1.2"/>
<circle cx="448.0" cy="686.2" r="3.0" fill="#fff" stroke="#000" stroke-width="1.2"/>
<circle cx="453.8" cy="686.2" r="3.0" fill="#000" stroke="#000" stroke-width="1.2"/>
<circle cx="458.0" cy="686.2" r="3.0" fill="#fff" stroke="#000" stroke-width="1.2"/>
<circle cx="460.0" cy="686.2" r="3.0" fill="#000" stroke="#000" stroke-width="1.2"/>
<circle cx="463.0" cy="686.2" r="3.0" fill="#fff" stroke="#000" stroke-width="1.2"/>
<circle cx="467.0" cy="686.2" r="3.0" fill="#fff" stroke="#000" stroke-width="1.2"/>
<circle cx="470.0" cy="686.2" r="3.0" fill="#000" stroke="#000" stroke-width="1.2"/>
<circle cx="471.5" cy="686.2" r="3.0" fill="#fff" stroke="#000" stroke-width="1.2"/>
<circle cx="474.5" cy="686.2" r="3.0" fill="#000" stroke="#000" stroke-width="1.2"/>
<circle cx="476.7" cy="686.2" r="3.0" fill="#fff" stroke="#000" stroke-width="1.2"/>
<circle cx="479.0" cy="686.2" r="3.0" fill="#000" stroke="#000" stroke-width="1.2"/>
<circle cx="480.5" cy="686.2" r="3.0" fill="#fff" stroke="#000" stroke-width="1.2"/>
<circle cx="483.5" cy="686.2" r="3.0" fill="#000" stroke="#000" stroke-width="1.2"/>
<circle cx="485.7" cy="686.2" r="3.0" fill="#fff" stroke="#000" stroke-width="1.2"/>
<circle cx="491.0" cy="686.2" r="3.0" fill="#fff" stroke="#000" stroke-width="1.2"/>
<circle cx="492.5" cy="686.2" r="3.0" fill="#000" stroke="#000" stroke-width="1.2"/>
<circle cx="494.0" cy="686.2" r="3.0" fill="#fff" stroke="#000" stroke-width="1.2"/>
<circle cx="497.0" cy="686.2" r="3.0" fill="#000" stroke="#000" stroke-width="1.2"/>
<circle cx="501.5" cy="686.2" r="3.0" fill="#fff" stroke="#000" stroke-width="1.2"/>
<circle cx="504.5" cy="686.2" r="3.0" fill="#000" stroke="#000" stroke-width="1.2"/>
<circle cx="508.0" cy="686.2" r="3.0" fill="#fff" stroke="#000" stroke-width="1.2"/>
<circle cx="510.5" cy="686.2" r="3.0" fill="#fff" stroke="#000" stroke-width="1.2"/>
<circle cx="513.5" cy="686.2" r="3.0" fill="#000" stroke="#000" stroke-width="1.2"/>
<circle cx="516.5" cy="686.2" r="3.0" fill="#fff" stroke="#000" stroke-width="1.2"/>
<circle cx="519.5" cy="686.2" r="3.0" fill="#000" stroke="#000" stroke-width="1.2"/>
<circle cx="521.7" cy="686.2" r="3.0" fill="#fff" stroke="#000" stroke-width="1.2"/>
<circle cx="524.0" cy="686.2" r="3.0" fill="#000" stroke="#000" stroke-width="1.2"/>
<circle cx="525.5" cy="686.2" r="3.0" fill="#fff" stroke="#000" stroke-width="1.2"/>
<circle cx="528.5" cy="686.2" r="3.0" fill="#000" stroke="#000" stroke-width="1.2"/>
<circle cx="530.0" cy="686.2" r="3.0" fill="#000" stroke="#000" stroke-width="1.2"/>
<circle cx="534.5" cy="686.2" r="3.0" fill="#fff" stroke="#000" stroke-width="1.2"/>
<circle cx="537.5" cy="686.2" r="3.0" fill="#fff" stroke="#000" stroke-width="1.2"/>
<circle cx="539.0" cy="686.2" r="3.0" fill="#fff" stroke="#000" stroke-width="1.2"/>
<circle cx="544.0" cy="686.2" r="3.0" fill="#000" stroke="#000" stroke-width="1.2"/>
<circle cx="547.0" cy="686.2" r="3.0" fill="#000" stroke="#000" stroke-width="1.2"/>
<circle cx="550.0" cy="686.2" r="3.0" fill="#000" stroke="#000" stroke-width="1.2"/>
<circle cx="557.0" cy="686.2" r="3.0" fill="#fff" stroke="#000" stroke-width="1.2"/>
<circle cx="561.0" cy="686.2" r="3.0" fill="#fff" stroke="#000" stroke-width="1.2"/>
<circle cx="565.0" cy="686.2" r="3.0" fill="#fff" stroke="#000" stroke-width="1.2"/>
<circle cx="569.0" cy="686.2" r="3.0" fill="#000" stroke="#000" stroke-width="1.2"/>
<circle cx="574.0" cy="686.2" r="3.0" fill="#fff" stroke="#000" stroke-width="1.2"/>
<circle cx="578.0" cy="686.2" r="3.0" fill="#fff" stroke="#000" stroke-width="1.2"/>
<circle cx="582.0" cy="686.2" r="3.0" fill="#fff" stroke="#000" stroke-width="1.2"/>
<circle cx="584.0" cy="686.2" r="3.0" fill="#000" stroke="#000" stroke-width="1.2"/>
<circle cx="586.0" cy="686.2" r="3.0" fill="#000" stroke="#000" stroke-width="1.2"/>
<circle cx="593.0" cy="686.2" r="3.0" fill="#fff" stroke="#000" stroke-width="1.2"/>
<circle cx="595.0" cy="686.2" r="3.0" fill="#fff" stroke="#000" stroke-width="1.2"/>
<circle cx="597.0" cy="686.2" r="3.0" fill="#fff" stroke="#000" stroke-width="1.2"/>
<circle cx="602.0" cy="686.2" r="3.0" fill="#000" stroke="#000" stroke-width="1.2"/>
<circle cx="606.0" cy="686.2" r="3.0" fill="#000" stroke="#000" stroke-width="1.2"/>
<circle cx="608.0" cy="686.2" r="3.0" fill="#000" stroke="#000" stroke-width="1.2"/>
<circle cx="619.2" cy="686.2" r="3.0" fill="#fff" stroke="#000" stroke-width="1.2"/>
<circle cx="621.9" cy="686.2" r="3.0" fill="#fff" stroke="#000" stroke-width="1.2"/>
<circle cx="623.7" cy="686.2" r="3.0" fill="#fff" stroke="#000" stroke-width="1.2"/>
<circle cx="634.5" cy="686.2" r="3.0" fill="#000" stroke="#000" stroke-width="1.2"/>
<circle cx="639.0" cy="686.2" r="3.0" fill="#000" stroke="#000" stroke-width="1.2"/>
<circle cx="649.0" cy="686.2" r="3.0" fill="#fff" stroke="#000" stroke-width="1.2"/>
<circle cx="652.0" cy="686.2" r="3.0" fill="#fff" stroke="#000" stroke-width="1.2"/>
<circle cx="655.0" cy="686.2" r="3.0" fill="#fff" stroke="#000" stroke-width="1.2"/>
<circle cx="663.0" cy="686.2" r="3.0" fill="#000" stroke="#000" stroke-width="1.2"/>
<circle cx="669.0" cy="686.2" r="3.0" fill="#000" stroke="#000" stroke-width="1.2"/>
<circle cx="673.0" cy="686.2" r="3.0" fill="#000" stroke="#000" stroke-width="1.2"/>
<circle cx="681.6" cy="686.2" r="3.0" fill="#fff" stroke="#000" stroke-width="1.2"/>
<circle cx="683.6" cy="686.2" r="3.0" fill="#fff" stroke="#000" stroke-width="1.2"/>
<circle cx="685.6" cy="686.2" r="3.0" fill="#fff" stroke="#000" stroke-width="1.2"/>
<circle cx="695.0" cy="686.2" r="3.0" fill="#000" stroke="#000" stroke-width="1.2"/>
<circle cx="697.0" cy="686.2" r="3.0" fill="#000" stroke="#000" stroke-width="1.2"/>
<circle cx="700.0" cy="686.2" r="3.0" fill="#000" stroke="#000" stroke-width="1.2"/>
<circle cx="708.4" cy="686.2" r="3.0" fill="#fff" stroke="#000" stroke-width="1.2"/>
<circle cx="711.0" cy="686.2" r="3.0" fill="#fff" stroke="#000" stroke-width="1.2"/>
<circle cx="714.0" cy="686.2" r="3.0" fill="#fff" stroke="#000" stroke-width="1.2"/>
<circle cx="725.0" cy="686.2" r="3.0" fill="#000" stroke="#000" stroke-width="1.2"/>
<circle cx="728.0" cy="686.2" r="3.0" fill="#000" stroke="#000" stroke-width="1.2"/>
<circle cx="737.0" cy="686.2" r="3.0" fill="#fff" stroke="#000" stroke-width="1.2"/>
<circle cx="740.0" cy="686.2" r="3.0" fill="#fff" stroke="#000" stroke-width="1.2"/>
<circle cx="742.0" cy="686.2" r="3.0" fill="#fff" stroke="#000" stroke-width="1.2"/>
<circle cx="747.6" cy="686.2" r="3.0" fill="#000" stroke="#000" stroke-width="1.2"/>
<circle cx="755.6" cy="686.2" r="3.0" fill="#fff" stroke="#000" stroke-width="1.2"/>
<circle cx="757.6" cy="686.2" r="3.0" fill="#fff" stroke="#000" stroke-width="1.2"/>
<circle cx="759.6" cy="686.2" r="3.0" fill="#fff" stroke="#000" stroke-width="1.2"/>
<circle cx="766.0" cy="686.2" r="3.0" fill="#000" stroke="#000" stroke-width="1.2"/>
<circle cx="769.0" cy="686.2" r="3.0" fill="#000" stroke="#000" stroke-width="1.2"/>
<circle cx="772.0" cy="686.2" r="3.0" fill="#000" stroke="#000" stroke-width="1.2"/>
<circle cx="774.0" cy="686.2" r="3.0" fill="#000" stroke="#000" stroke-width="1.2"/>
<circle cx="778.0" cy="686.2" r="3.0" fill="#000" stroke="#000" stroke-width="1.2"/>
<circle cx="780.0" cy="686.2" r="3.0" fill="#000" stroke="#000" stroke-width="1.2"/>
<circle cx="785.0" cy="686.2" r="3.0" fill="#fff" stroke="#000" stroke-width="1.2"/>
<circle cx="787.6" cy="686.2" r="3.0" fill="#fff" stroke="#000" stroke-width="1.2"/>
<circle cx="790.0" cy="686.2" r="3.0" fill="#fff" stroke="#000" stroke-width="1.2"/>
<circle cx="792.4" cy="686.2" r="3.0" fill="#000" stroke="#000" stroke-width="1.2"/>
<circle cx="802.0" cy="686.2" r="3.0" fill="#000" stroke="#000" stroke-width="1.2"/>
<circle cx="811.0" cy="686.2" r="3.0" fill="#fff" stroke="#000" stroke-width="1.2"/>
<circle cx="814.0" cy="686.2" r="3.0" fill="#fff" stroke="#000" stroke-width="1.2"/>
<circle cx="831.5" cy="686.2" r="3.0" fill="#000" stroke="#000" stroke-width="1.2"/>
<circle cx="835.0" cy="686.2" r="3.0" fill="#000" stroke="#000" stroke-width="1.2"/>
<circle cx="845.0" cy="686.2" r="3.0" fill="#fff" stroke="#000" stroke-width="1.2"/>
<circle cx="846.0" cy="686.2" r="3.0" fill="#fff" stroke="#000" stroke-width="1.2"/>
<circle cx="853.6" cy="686.2" r="3.0" fill="#000" stroke="#000" stroke-width="1.2"/>
<circle cx="857.0" cy="686.2" r="3.0" fill="#000" stroke="#000" stroke-width="1.2"/>
<circle cx="869.0" cy="686.2" r="3.0" fill="#fff" stroke="#000" stroke-width="1.2"/>
<circle cx="873.0" cy="686.2" r="3.0" fill="#fff" stroke="#000" stroke-width="1.2"/>
<circle cx="876.0" cy="686.2" r="3.0" fill="#fff" stroke="#000" stroke-width="1.2"/>
<circle cx="885.0" cy="686.2" r="3.0" fill="#000" stroke="#000" stroke-width="1.2"/>
<circle cx="891.0" cy="686.2" r="3.0" fill="#000" stroke="#000" stroke-width="1.2"/>
<circle cx="896.0" cy="686.2" r="3.0" fill="#fff" stroke="#000" stroke-width="1.2"/>
<circle cx="900.0" cy="686.2" r="3.0" fill="#fff" stroke="#000" stroke-width="1.2"/>
<circle cx="908.0" cy="686.2" r="3.0" fill="#000" stroke="#000" stroke-width="1.2"/>
<circle cx="911.0" cy="686.2" r="3.0" fill="#000" stroke="#000" stroke-width="1.2"/>
<circle cx="919.0" cy="686.2" r="3.0" fill="#fff" stroke="#000" stroke-width="1.2"/>
<circle cx="922.0" cy="686.2" r="3.0" fill="#fff" stroke="#000" stroke-width="1.2"/>
<circle cx="926.0" cy="686.2" r="3.0" fill="#000" stroke="#000" stroke-width="1.2"/>
<circle cx="933.0" cy="686.2" r="3.0" fill="#fff" stroke="#000" stroke-width="1.2"/>
<circle cx="935.0" cy="686.2" r="3.0" fill="#fff" stroke="#000" stroke-width="1.2"/>
<circle cx="937.0" cy="686.2" r="3.0" fill="#000" stroke="#000" stroke-width="1.2"/>
<circle cx="942.0" cy="686.2" r="3.0" fill="#fff" stroke="#000" stroke-width="1.2"/>
<circle cx="952.0" cy="686.2" r="3.0" fill="#000" stroke="#000" stroke-width="1.2"/>
<circle cx="956.0" cy="686.2" r="3.0" fill="#fff" stroke="#000" stroke-width="1.2"/>
<circle cx="960.0" cy="686.2" r="3.0" fill="#000" stroke="#000" stroke-width="1.2"/>
<circle cx="962.0" cy="686.2" r="3.0" fill="#fff" stroke="#000" stroke-width="1.2"/>
<circle cx="969.0" cy="686.2" r="3.0" fill="#fff" stroke="#000" stroke-width="1.2"/>
<circle cx="971.0" cy="686.2" r="3.0" fill="#000" stroke="#000" stroke-width="1.2"/>
<circle cx="973.0" cy="686.2" r="3.0" fill="#fff" stroke="#000" stroke-width="1.2"/>
<circle cx="978.0" cy="686.2" r="3.0" fill="#000" stroke="#000" stroke-width="1.2"/>
<circle cx="986.0" cy="686.2" r="3.0" fill="#fff" stroke="#000" stroke-width="1.2"/>
<circle cx="993.0" cy="686.2" r="3.0" fill="#fff" stroke="#000" stroke-width="1.2"/>
<circle cx="994.0" cy="686.2" r="3.0" fill="#fff" stroke="#000" stroke-width="1.2"/>
<circle cx="1006.0" cy="686.2" r="3.0" fill="#000" stroke="#000" stroke-width="1.2"/>
<circle cx="1009.0" cy="686.2" r="3.0" fill="#000" stroke="#000" stroke-width="1.2"/>
<circle cx="1012.0" cy="686.2" r="3.0" fill="#000" stroke="#000" stroke-width="1.2"/>
<circle cx="1017.0" cy="686.2" r="3.0" fill="#000" stroke="#000" stroke-width="1.2"/>
<circle cx="1022.6" cy="686.2" r="3.0" fill="#fff" stroke="#000" stroke-width="1.2"/>
<circle cx="1025.6" cy="686.2" r="3.0" fill="#fff" stroke="#000" stroke-width="1.2"/>
<circle cx="1039.0" cy="686.2" r="3.0" fill="#000" stroke="#000" stroke-width="1.2"/>
<circle cx="1040.0" cy="686.2" r="3.0" fill="#000" stroke="#000" stroke-width="1.2"/>
<circle cx="1043.0" cy="686.2" r="3.0" fill="#000" stroke="#000" stroke-width="1.2"/>
<circle cx="1056.0" cy="686.2" r="3.0" fill="#fff" stroke="#000" stroke-width="1.2"/>
<circle cx="1059.6" cy="686.2" r="3.0" fill="#fff" stroke="#000" stroke-width="1.2"/>
<circle cx="1066.0" cy="686.2" r="3.0" fill="#fff" stroke="#000" stroke-width="1.2"/>
<circle cx="1071.6" cy="686.2" r="3.0" fill="#000" stroke="#000" stroke-width="1.2"/>
<circle cx="1075.0" cy="686.2" r="3.0" fill="#000" stroke="#000" stroke-width="1.2"/>
<circle cx="1081.0" cy="686.2" r="3.0" fill="#fff" stroke="#000" stroke-width="1.2"/>
<circle cx="1084.0" cy="686.2" r="3.0" fill="#fff" stroke="#000" stroke-width="1.2"/>
<circle cx="1087.0" cy="686.2" r="3.0" fill="#000" stroke="#000" stroke-width="1.2"/>
<circle cx="1090.6" cy="686.2" r="3.0" fill="#000" stroke="#000" stroke-width="1.2"/>
<circle cx="1095.6" cy="686.2" r="3.0" fill="#fff" stroke="#000" stroke-width="1.2"/>
<circle cx="1098.0" cy="686.2" r="3.0" fill="#fff" stroke="#000" stroke-width="1.2"/>
<circle cx="1102.4" cy="686.2" r="3.0" fill="#fff" stroke="#000" stroke-width="1.2"/>
<circle cx="1106.0" cy="686.2" r="3.0" fill="#000" stroke="#000" stroke-width="1.2"/>
<circle cx="1110.0" cy="686.2" r="3.0" fill="#fff" stroke="#000" stroke-width="1.2"/>
<circle cx="1120.0" cy="686.2" r="3.0" fill="#000" stroke="#000" stroke-width="1.2"/>
<circle cx="1124.0" cy="686.2" r="3.0" fill="#000" stroke="#000" stroke-width="1.2"/>
<circle cx="1133.0" cy="686.2" r="3.0" fill="#fff" stroke="#000" stroke-width="1.2"/>
<circle cx="1135.0" cy="686.2" r="3.0" fill="#fff" stroke="#000" stroke-width="1.2"/>
<circle cx="1138.4" cy="686.2" r="3.0" fill="#fff" stroke="#000" stroke-width="1.2"/>
<circle cx="1143.6" cy="686.2" r="3.0" fill="#000" stroke="#000" stroke-width="1.2"/>
<circle cx="1145.0" cy="686.2" r="3.0" fill="#000" stroke="#000" stroke-width="1.2"/>
<circle cx="1147.6" cy="686.2" r="3.0" fill="#000" stroke="#000" stroke-width="1.2"/>
<circle cx="1155.5" cy="686.2" r="3.0" fill="#fff" stroke="#000" stroke-width="1.2"/>
<circle cx="1158.5" cy="686.2" r="3.0" fill="#fff" stroke="#000" stroke-width="1.2"/>
<circle cx="1168.0" cy="686.2" r="3.0" fill="#000" stroke="#000" stroke-width="1.2"/>
<circle cx="1173.0" cy="686.2" r="3.0" fill="#000" stroke="#000" stroke-width="1.2"/>
<circle cx="1181.5" cy="686.2" r="3.0" fill="#fff" stroke="#000" stroke-width="1.2"/>
<circle cx="1186.0" cy="686.2" r="3.0" fill="#000" stroke="#000" stroke-width="1.2"/>
<circle cx="1190.0" cy="686.2" r="3.0" fill="#000" stroke="#000" stroke-width="1.2"/>
<circle cx="1195.0" cy="686.2" r="3.0" fill="#fff" stroke="#000" stroke-width="1.2"/>
<circle cx="1199.0" cy="686.2" r="3.0" fill="#fff" stroke="#000" stroke-width="1.2"/>
<circle cx="1203.0" cy="686.2" r="3.0" fill="#000" stroke="#000" stroke-width="1.2"/>
<circle cx="1205.0" cy="686.2" r="3.0" fill="#000" stroke="#000" stroke-width="1.2"/>
<circle cx="1207.5" cy="686.2" r="3.0" fill="#000" stroke="#000" stroke-width="1.2"/>
<text transform="translate(154.0,657.6) rotate(-90) scale(1,1.065)" font-size="13.8" text-anchor="middle" stroke="#000" stroke-width="0.25">G135</text>
<text transform="translate(172.0,657.6) rotate(-90) scale(1,1.065)" font-size="13.8" text-anchor="middle" stroke="#000" stroke-width="0.25">H2O2</text>
<text transform="translate(189.0,657.6) rotate(-90) scale(1,1.065)" font-size="13.8" text-anchor="middle" stroke="#000" stroke-width="0.25">Oxctl</text>
<text transform="translate(212.0,657.6) rotate(-90) scale(1,1.065)" font-size="13.8" text-anchor="middle" stroke="#000" stroke-width="0.25">dia15</text>
<text transform="translate(239.0,657.6) rotate(-90) scale(1,1.065)" font-size="13.8" text-anchor="middle" stroke="#000" stroke-width="0.25">dia5</text>
<text transform="translate(268.0,657.6) rotate(-90) scale(1,1.065)" font-size="13.8" text-anchor="middle" stroke="#000" stroke-width="0.25">C30</text>
<text transform="translate(297.0,657.6) rotate(-90) scale(1,1.065)" font-size="13.8" text-anchor="middle" stroke="#000" stroke-width="0.25">LPh</text>
<text transform="translate(315.0,657.6) rotate(-90) scale(1,1.065)" font-size="13.8" text-anchor="middle" stroke="#000" stroke-width="0.25">aero</text>
<text transform="translate(345.0,657.6) rotate(-90) scale(1,1.065)" font-size="13.8" text-anchor="middle" stroke="#000" stroke-width="0.25">ferm</text>
<text transform="translate(367.0,657.6) rotate(-90) scale(1,1.065)" font-size="13.8" text-anchor="middle" stroke="#000" stroke-width="0.25">M9−tran</text>
<text transform="translate(383.0,657.6) rotate(-90) scale(1,1.065)" font-size="13.8" text-anchor="middle" stroke="#000" stroke-width="0.25">MG+120</text>
<text transform="translate(395.5,657.6) rotate(-90) scale(1,1.065)" font-size="13.8" text-anchor="middle" stroke="#000" stroke-width="0.25">MG+60</text>
<text transform="translate(399.5,657.6) rotate(-90) scale(1,1.065)" font-size="13.8" text-anchor="middle" stroke="#000" stroke-width="0.25">MG+60</text>
<text transform="translate(410.0,657.6) rotate(-90) scale(1,1.065)" font-size="13.8" text-anchor="middle" stroke="#000" stroke-width="0.25">MG+25</text>
<text transform="translate(417.0,657.6) rotate(-90) scale(1,1.065)" font-size="13.8" text-anchor="middle" stroke="#000" stroke-width="0.25">MG+45</text>
<text transform="translate(421.0,657.6) rotate(-90) scale(1,1.065)" font-size="13.8" text-anchor="middle" stroke="#000" stroke-width="0.25">MG+15</text>
<text transform="translate(425.6,657.6) rotate(-90) scale(1,1.065)" font-size="13.8" text-anchor="middle" stroke="#000" stroke-width="0.25">MG+5</text>
<text transform="translate(428.7,657.6) rotate(-90) scale(1,1.065)" font-size="13.8" text-anchor="middle" stroke="#000" stroke-width="0.25">MG+10</text>
<text transform="translate(432.5,657.6) rotate(-90) scale(1,1.065)" font-size="13.8" text-anchor="middle" stroke="#000" stroke-width="0.25">MG+25</text>
<text transform="translate(436.0,657.6) rotate(-90) scale(1,1.065)" font-size="13.8" text-anchor="middle" stroke="#000" stroke-width="0.25">MG+45</text>
<text transform="translate(444.0,657.6) rotate(-90) scale(1,1.065)" font-size="13.8" text-anchor="middle" stroke="#000" stroke-width="0.25">MG−0.2</text>
<text transform="translate(447.5,657.6) rotate(-90) scale(1,1.065)" font-size="13.8" text-anchor="middle" stroke="#000" stroke-width="0.25">MG−0.1</text>
<text transform="translate(456.0,657.6) rotate(-90) scale(1,1.065)" font-size="13.8" text-anchor="middle" stroke="#000" stroke-width="0.25">MG−Fru</text>
<text transform="translate(462.0,657.6) rotate(-90) scale(1,1.065)" font-size="13.8" text-anchor="middle" stroke="#000" stroke-width="0.25">GM−0.3</text>
<text transform="translate(467.0,657.6) rotate(-90) scale(1,1.065)" font-size="13.8" text-anchor="middle" stroke="#000" stroke-width="0.25">GM−0.2</text>
<text transform="translate(478.8,657.6) rotate(-90) scale(1,1.065)" font-size="13.8" text-anchor="middle" stroke="#000" stroke-width="0.25">GM+15</text>
<text transform="translate(483.2,657.6) rotate(-90) scale(1,1.065)" font-size="13.8" text-anchor="middle" stroke="#000" stroke-width="0.25">GM+25</text>
<text transform="translate(487.7,657.6) rotate(-90) scale(1,1.065)" font-size="13.8" text-anchor="middle" stroke="#000" stroke-width="0.25">GM+45</text>
<text transform="translate(492.9,657.6) rotate(-90) scale(1,1.065)" font-size="13.8" text-anchor="middle" stroke="#000" stroke-width="0.25">GM+60</text>
<text transform="translate(496.6,657.6) rotate(-90) scale(1,1.065)" font-size="13.8" text-anchor="middle" stroke="#000" stroke-width="0.25">GM+90</text>
<text transform="translate(500.3,657.6) rotate(-90) scale(1,1.065)" font-size="13.8" text-anchor="middle" stroke="#000" stroke-width="0.25">GM+5</text>
<text transform="translate(508.5,657.6) rotate(-90) scale(1,1.065)" font-size="13.8" text-anchor="middle" stroke="#000" stroke-width="0.25">GM+15</text>
<text transform="translate(514.4,657.6) rotate(-90) scale(1,1.065)" font-size="13.8" text-anchor="middle" stroke="#000" stroke-width="0.25">GM+150</text>
<text transform="translate(524.0,657.6) rotate(-90) scale(1,1.065)" font-size="13.8" text-anchor="middle" stroke="#000" stroke-width="0.25">GM+25</text>
<text transform="translate(529.2,657.6) rotate(-90) scale(1,1.065)" font-size="13.8" text-anchor="middle" stroke="#000" stroke-width="0.25">GM+45</text>
<text transform="translate(533.0,657.6) rotate(-90) scale(1,1.065)" font-size="13.8" text-anchor="middle" stroke="#000" stroke-width="0.25">GM+60</text>
<text transform="translate(543.0,657.6) rotate(-90) scale(1,1.065)" font-size="13.8" text-anchor="middle" stroke="#000" stroke-width="0.25">M9−exp</text>
<text transform="translate(563.0,657.6) rotate(-90) scale(1,1.065)" font-size="13.8" text-anchor="middle" stroke="#000" stroke-width="0.25">Mal</text>
<text transform="translate(582.0,657.6) rotate(-90) scale(1,1.065)" font-size="13.8" text-anchor="middle" stroke="#000" stroke-width="0.25">Glu</text>
<text transform="translate(599.0,657.6) rotate(-90) scale(1,1.065)" font-size="13.8" text-anchor="middle" stroke="#000" stroke-width="0.25">BMM</text>
<text transform="translate(626.0,657.6) rotate(-90) scale(1,1.065)" font-size="13.8" text-anchor="middle" stroke="#000" stroke-width="0.25">Etha</text>
<text transform="translate(654.0,657.6) rotate(-90) scale(1,1.065)" font-size="13.8" text-anchor="middle" stroke="#000" stroke-width="0.25">Gly</text>
<text transform="translate(688.0,657.6) rotate(-90) scale(1,1.065)" font-size="13.8" text-anchor="middle" stroke="#000" stroke-width="0.25">HiOs</text>
<text transform="translate(714.0,657.6) rotate(-90) scale(1,1.065)" font-size="13.8" text-anchor="middle" stroke="#000" stroke-width="0.25">S2</text>
<text transform="translate(743.0,657.6) rotate(-90) scale(1,1.065)" font-size="13.8" text-anchor="middle" stroke="#000" stroke-width="0.25">S4</text>
<text transform="translate(761.0,657.6) rotate(-90) scale(1,1.065)" font-size="13.8" text-anchor="middle" stroke="#000" stroke-width="0.25">S5</text>
<text transform="translate(792.0,657.6) rotate(-90) scale(1,1.065)" font-size="13.8" text-anchor="middle" stroke="#000" stroke-width="0.25">S7</text>
<text transform="translate(817.0,657.6) rotate(-90) scale(1,1.065)" font-size="13.8" text-anchor="middle" stroke="#000" stroke-width="0.25">S6</text>
<text transform="translate(849.0,657.6) rotate(-90) scale(1,1.065)" font-size="13.8" text-anchor="middle" stroke="#000" stroke-width="0.25">B36</text>
<text transform="translate(875.0,657.6) rotate(-90) scale(1,1.065)" font-size="13.8" text-anchor="middle" stroke="#000" stroke-width="0.25">LoTm</text>
<text transform="translate(902.0,657.6) rotate(-90) scale(1,1.065)" font-size="13.8" text-anchor="middle" stroke="#000" stroke-width="0.25">G/S</text>
<text transform="translate(924.0,657.6) rotate(-90) scale(1,1.065)" font-size="13.8" text-anchor="middle" stroke="#000" stroke-width="0.25">SMMPr</text>
<text transform="translate(935.0,657.6) rotate(-90) scale(1,1.065)" font-size="13.8" text-anchor="middle" stroke="#000" stroke-width="0.25">T−4.40H</text>
<text transform="translate(940.5,657.6) rotate(-90) scale(1,1.065)" font-size="13.8" text-anchor="middle" stroke="#000" stroke-width="0.25">T−2.40H</text>
<text transform="translate(946.0,657.6) rotate(-90) scale(1,1.065)" font-size="13.8" text-anchor="middle" stroke="#000" stroke-width="0.25">T0.40H</text>
<text transform="translate(962.3,657.6) rotate(-90) scale(1,1.065)" font-size="13.8" text-anchor="middle" stroke="#000" stroke-width="0.25">T1.0H</text>
<text transform="translate(968.8,657.6) rotate(-90) scale(1,1.065)" font-size="13.8" text-anchor="middle" stroke="#000" stroke-width="0.25">T2.0H</text>
<text transform="translate(975.2,657.6) rotate(-90) scale(1,1.065)" font-size="13.8" text-anchor="middle" stroke="#000" stroke-width="0.25">T3.0H</text>
<text transform="translate(979.1,657.6) rotate(-90) scale(1,1.065)" font-size="13.8" text-anchor="middle" stroke="#000" stroke-width="0.25">T4.0H</text>
<text transform="translate(992.0,657.6) rotate(-90) scale(1,1.065)" font-size="13.8" text-anchor="middle" stroke="#000" stroke-width="0.25">M9−stat</text>
<text transform="translate(1028.0,657.6) rotate(-90) scale(1,1.065)" font-size="13.8" text-anchor="middle" stroke="#000" stroke-width="0.25">Sw</text>
<text transform="translate(1063.0,657.6) rotate(-90) scale(1,1.065)" font-size="13.8" text-anchor="middle" stroke="#000" stroke-width="0.25">LBGstat</text>
<text transform="translate(1087.0,657.6) rotate(-90) scale(1,1.065)" font-size="13.8" text-anchor="middle" stroke="#000" stroke-width="0.25">M0t45</text>
<text transform="translate(1102.0,657.6) rotate(-90) scale(1,1.065)" font-size="13.8" text-anchor="middle" stroke="#000" stroke-width="0.25">Lbtran</text>
<text transform="translate(1115.0,657.6) rotate(-90) scale(1,1.065)" font-size="13.8" text-anchor="middle" stroke="#000" stroke-width="0.25">M40t45</text>
<text transform="translate(1137.0,657.6) rotate(-90) scale(1,1.065)" font-size="13.8" text-anchor="middle" stroke="#000" stroke-width="0.25">M0t90</text>
<text transform="translate(1162.0,657.6) rotate(-90) scale(1,1.065)" font-size="13.8" text-anchor="middle" stroke="#000" stroke-width="0.25">BI</text>
<text transform="translate(1188.0,657.6) rotate(-90) scale(1,1.065)" font-size="13.8" text-anchor="middle" stroke="#000" stroke-width="0.25">M0t45</text>
<text transform="translate(1199.0,657.6) rotate(-90) scale(1,1.065)" font-size="13.8" text-anchor="middle" stroke="#000" stroke-width="0.25">Lbexp</text>
<text transform="translate(1209.0,657.6) rotate(-90) scale(1,1.065)" font-size="13.8" text-anchor="middle" stroke="#000" stroke-width="0.25">Lbexp</text>
<text transform="translate(144.0,714.6) rotate(-90) scale(1,1.065)" font-size="13.8" text-anchor="middle" stroke="#000" stroke-width="0.25">G150</text>
<text transform="translate(160.0,714.6) rotate(-90) scale(1,1.065)" font-size="13.8" text-anchor="middle" stroke="#000" stroke-width="0.25">G180</text>
<text transform="translate(179.0,714.6) rotate(-90) scale(1,1.065)" font-size="13.8" text-anchor="middle" stroke="#000" stroke-width="0.25">Paraq</text>
<text transform="translate(198.0,714.6) rotate(-90) scale(1,1.065)" font-size="13.8" text-anchor="middle" stroke="#000" stroke-width="0.25">LBGexp</text>
<text transform="translate(227.0,714.6) rotate(-90) scale(1,1.065)" font-size="13.8" text-anchor="middle" stroke="#000" stroke-width="0.25">Diami</text>
<text transform="translate(255.0,714.6) rotate(-90) scale(1,1.065)" font-size="13.8" text-anchor="middle" stroke="#000" stroke-width="0.25">C90</text>
<text transform="translate(282.0,714.6) rotate(-90) scale(1,1.065)" font-size="13.8" text-anchor="middle" stroke="#000" stroke-width="0.25">Cold</text>
<text transform="translate(305.0,714.6) rotate(-90) scale(1,1.065)" font-size="13.8" text-anchor="middle" stroke="#000" stroke-width="0.25">HPh</text>
<text transform="translate(333.0,714.6) rotate(-90) scale(1,1.065)" font-size="13.8" text-anchor="middle" stroke="#000" stroke-width="0.25">nit</text>
<text transform="translate(361.0,714.6) rotate(-90) scale(1,1.065)" font-size="13.8" text-anchor="middle" stroke="#000" stroke-width="0.25">GM+150</text>
<text transform="translate(376.0,714.6) rotate(-90) scale(1,1.065)" font-size="13.8" text-anchor="middle" stroke="#000" stroke-width="0.25">MG+150</text>
<text transform="translate(393.2,714.6) rotate(-90) scale(1,1.065)" font-size="13.8" text-anchor="middle" stroke="#000" stroke-width="0.25">MG+90</text>
<text transform="translate(399.2,714.6) rotate(-90) scale(1,1.065)" font-size="13.8" text-anchor="middle" stroke="#000" stroke-width="0.25">MG+25</text>
<text transform="translate(403.8,714.6) rotate(-90) scale(1,1.065)" font-size="13.8" text-anchor="middle" stroke="#000" stroke-width="0.25">MG+45</text>
<text transform="translate(408.3,714.6) rotate(-90) scale(1,1.065)" font-size="13.8" text-anchor="middle" stroke="#000" stroke-width="0.25">MG+15</text>
<text transform="translate(414.0,714.6) rotate(-90) scale(1,1.065)" font-size="13.8" text-anchor="middle" stroke="#000" stroke-width="0.25">MG+60</text>
<text transform="translate(418.5,714.6) rotate(-90) scale(1,1.065)" font-size="13.8" text-anchor="middle" stroke="#000" stroke-width="0.25">MG+90</text>
<text transform="translate(424.2,714.6) rotate(-90) scale(1,1.065)" font-size="13.8" text-anchor="middle" stroke="#000" stroke-width="0.25">MG+25</text>
<text transform="translate(429.8,714.6) rotate(-90) scale(1,1.065)" font-size="13.8" text-anchor="middle" stroke="#000" stroke-width="0.25">MG+45</text>
<text transform="translate(433.3,714.6) rotate(-90) scale(1,1.065)" font-size="13.8" text-anchor="middle" stroke="#000" stroke-width="0.25">MG+15</text>
<text transform="translate(439.6,714.6) rotate(-90) scale(1,1.065)" font-size="13.8" text-anchor="middle" stroke="#000" stroke-width="0.25">MG−0.1</text>
<text transform="translate(449.0,714.6) rotate(-90) scale(1,1.065)" font-size="13.8" text-anchor="middle" stroke="#000" stroke-width="0.25">MG−LNK</text>
<text transform="translate(459.0,714.6) rotate(-90) scale(1,1.065)" font-size="13.8" text-anchor="middle" stroke="#000" stroke-width="0.25">Glucon</text>
<text transform="translate(466.0,714.6) rotate(-90) scale(1,1.065)" font-size="13.8" text-anchor="middle" stroke="#000" stroke-width="0.25">GM−0.1</text>
<text transform="translate(475.0,714.6) rotate(-90) scale(1,1.065)" font-size="13.8" text-anchor="middle" stroke="#000" stroke-width="0.25">GM−0.2</text>
<text transform="translate(480.6,714.6) rotate(-90) scale(1,1.065)" font-size="13.8" text-anchor="middle" stroke="#000" stroke-width="0.25">GM+15</text>
<text transform="translate(485.5,714.6) rotate(-90) scale(1,1.065)" font-size="13.8" text-anchor="middle" stroke="#000" stroke-width="0.25">GM+25</text>
<text transform="translate(490.3,714.6) rotate(-90) scale(1,1.065)" font-size="13.8" text-anchor="middle" stroke="#000" stroke-width="0.25">GM+45</text>
<text transform="translate(495.5,714.6) rotate(-90) scale(1,1.065)" font-size="13.8" text-anchor="middle" stroke="#000" stroke-width="0.25">GM+60</text>
<text transform="translate(498.5,714.6) rotate(-90) scale(1,1.065)" font-size="13.8" text-anchor="middle" stroke="#000" stroke-width="0.25">GM+90</text>
<text transform="translate(504.4,714.6) rotate(-90) scale(1,1.065)" font-size="13.8" text-anchor="middle" stroke="#000" stroke-width="0.25">GM+120</text>
<text transform="translate(510.3,714.6) rotate(-90) scale(1,1.065)" font-size="13.8" text-anchor="middle" stroke="#000" stroke-width="0.25">GM+150</text>
<text transform="translate(521.5,714.6) rotate(-90) scale(1,1.065)" font-size="13.8" text-anchor="middle" stroke="#000" stroke-width="0.25">GM+15</text>
<text transform="translate(526.7,714.6) rotate(-90) scale(1,1.065)" font-size="13.8" text-anchor="middle" stroke="#000" stroke-width="0.25">GM+25</text>
<text transform="translate(531.0,714.6) rotate(-90) scale(1,1.065)" font-size="13.8" text-anchor="middle" stroke="#000" stroke-width="0.25">GM+45</text>
<text transform="translate(535.6,714.6) rotate(-90) scale(1,1.065)" font-size="13.8" text-anchor="middle" stroke="#000" stroke-width="0.25">GM+60</text>
<text transform="translate(549.0,714.6) rotate(-90) scale(1,1.065)" font-size="13.8" text-anchor="middle" stroke="#000" stroke-width="0.25">M/G</text>
<text transform="translate(576.0,714.6) rotate(-90) scale(1,1.065)" font-size="13.8" text-anchor="middle" stroke="#000" stroke-width="0.25">Fru</text>
<text transform="translate(591.0,714.6) rotate(-90) scale(1,1.065)" font-size="13.8" text-anchor="middle" stroke="#000" stroke-width="0.25">SMM</text>
<text transform="translate(610.0,714.6) rotate(-90) scale(1,1.065)" font-size="13.8" text-anchor="middle" stroke="#000" stroke-width="0.25">Heat</text>
<text transform="translate(641.0,714.6) rotate(-90) scale(1,1.065)" font-size="13.8" text-anchor="middle" stroke="#000" stroke-width="0.25">Salt</text>
<text transform="translate(668.0,714.6) rotate(-90) scale(1,1.065)" font-size="13.8" text-anchor="middle" stroke="#000" stroke-width="0.25">HiTm</text>
<text transform="translate(701.0,714.6) rotate(-90) scale(1,1.065)" font-size="13.8" text-anchor="middle" stroke="#000" stroke-width="0.25">S1</text>
<text transform="translate(731.0,714.6) rotate(-90) scale(1,1.065)" font-size="13.8" text-anchor="middle" stroke="#000" stroke-width="0.25">S3</text>
<text transform="translate(753.0,714.6) rotate(-90) scale(1,1.065)" font-size="13.8" text-anchor="middle" stroke="#000" stroke-width="0.25">S3</text>
<text transform="translate(771.0,714.6) rotate(-90) scale(1,1.065)" font-size="13.8" text-anchor="middle" stroke="#000" stroke-width="0.25">S6</text>
<text transform="translate(798.0,714.6) rotate(-90) scale(1,1.065)" font-size="13.8" text-anchor="middle" stroke="#000" stroke-width="0.25">S8</text>
<text transform="translate(838.0,714.6) rotate(-90) scale(1,1.065)" font-size="13.8" text-anchor="middle" stroke="#000" stroke-width="0.25">BT</text>
<text transform="translate(859.0,714.6) rotate(-90) scale(1,1.065)" font-size="13.8" text-anchor="middle" stroke="#000" stroke-width="0.25">B60</text>
<text transform="translate(889.0,714.6) rotate(-90) scale(1,1.065)" font-size="13.8" text-anchor="middle" stroke="#000" stroke-width="0.25">Pyr</text>
<text transform="translate(913.0,714.6) rotate(-90) scale(1,1.065)" font-size="13.8" text-anchor="middle" stroke="#000" stroke-width="0.25">Glucon</text>
<text transform="translate(934.5,714.6) rotate(-90) scale(1,1.065)" font-size="13.8" text-anchor="middle" stroke="#000" stroke-width="0.25">T−5.40H</text>
<text transform="translate(938.2,714.6) rotate(-90) scale(1,1.065)" font-size="13.8" text-anchor="middle" stroke="#000" stroke-width="0.25">T−3.40H</text>
<text transform="translate(941.8,714.6) rotate(-90) scale(1,1.065)" font-size="13.8" text-anchor="middle" stroke="#000" stroke-width="0.25">T−1.40H</text>
<text transform="translate(945.5,714.6) rotate(-90) scale(1,1.065)" font-size="13.8" text-anchor="middle" stroke="#000" stroke-width="0.25">T−0.40H</text>
<text transform="translate(957.5,714.6) rotate(-90) scale(1,1.065)" font-size="13.8" text-anchor="middle" stroke="#000" stroke-width="0.25">T0.30H</text>
<text transform="translate(965.0,714.6) rotate(-90) scale(1,1.065)" font-size="13.8" text-anchor="middle" stroke="#000" stroke-width="0.25">T1.30H</text>
<text transform="translate(972.0,714.6) rotate(-90) scale(1,1.065)" font-size="13.8" text-anchor="middle" stroke="#000" stroke-width="0.25">T2.30H</text>
<text transform="translate(977.0,714.6) rotate(-90) scale(1,1.065)" font-size="13.8" text-anchor="middle" stroke="#000" stroke-width="0.25">T3.30H</text>
<text transform="translate(983.0,714.6) rotate(-90) scale(1,1.065)" font-size="13.8" text-anchor="middle" stroke="#000" stroke-width="0.25">T5.0H</text>
<text transform="translate(1011.0,714.6) rotate(-90) scale(1,1.065)" font-size="13.8" text-anchor="middle" stroke="#000" stroke-width="0.25">BC</text>
<text transform="translate(1045.0,714.6) rotate(-90) scale(1,1.065)" font-size="13.8" text-anchor="middle" stroke="#000" stroke-width="0.25">LPhT</text>
<text transform="translate(1078.0,714.6) rotate(-90) scale(1,1.065)" font-size="13.8" text-anchor="middle" stroke="#000" stroke-width="0.25">LBGtran</text>
<text transform="translate(1093.0,714.6) rotate(-90) scale(1,1.065)" font-size="13.8" text-anchor="middle" stroke="#000" stroke-width="0.25">M40t45</text>
<text transform="translate(1112.0,714.6) rotate(-90) scale(1,1.065)" font-size="13.8" text-anchor="middle" stroke="#000" stroke-width="0.25">Mt0</text>
<text transform="translate(1124.0,714.6) rotate(-90) scale(1,1.065)" font-size="13.8" text-anchor="middle" stroke="#000" stroke-width="0.25">M40t90</text>
<text transform="translate(1149.0,714.6) rotate(-90) scale(1,1.065)" font-size="13.8" text-anchor="middle" stroke="#000" stroke-width="0.25">Lbstat</text>
<text transform="translate(1173.0,714.6) rotate(-90) scale(1,1.065)" font-size="13.8" text-anchor="middle" stroke="#000" stroke-width="0.25">S0</text>
<text transform="translate(1192.0,714.6) rotate(-90) scale(1,1.065)" font-size="13.8" text-anchor="middle" stroke="#000" stroke-width="0.25">dia0</text>
<text transform="translate(1205.0,714.6) rotate(-90) scale(1,1.065)" font-size="13.8" text-anchor="middle" stroke="#000" stroke-width="0.25">Mt0</text>
<text transform="translate(1210.0,714.6) rotate(-90) scale(1,1.065)" font-size="13.8" text-anchor="middle" stroke="#000" stroke-width="0.25">Mt0</text>
<text transform="translate(887,465.8) scale(1,1.065)" font-size="26.5" fill="#00ff00" stroke="#00ff00" stroke-width="0.3">clusters</text>
<line x1="894.9" y1="490.7" x2="935" y2="490.7" stroke="#00ff00" stroke-width="4.5" stroke-dasharray="0 13.25" stroke-linecap="round"/>
<line x1="895.15" y1="522.5" x2="931.2" y2="522.5" stroke="#00ff00" stroke-width="4.5" stroke-dasharray="9.2 17.2" stroke-linecap="round"/>
<line x1="895.15" y1="554.5" x2="942.35" y2="554.5" stroke="#00ff00" stroke-width="4.5" stroke-linecap="round"/>
<text transform="translate(967,500.6) scale(1,1.065)" font-size="26.6" fill="#00ff00" stroke="#00ff00" stroke-width="0.3">A1890 size: 2</text>
<text transform="translate(967,532.5) scale(1,1.065)" font-size="26.6" fill="#00ff00" stroke="#00ff00" stroke-width="0.3">B387 size: 4</text>
<text transform="translate(967,564.2) scale(1,1.065)" font-size="26.6" fill="#00ff00" stroke="#00ff00" stroke-width="0.3">C60 size: 15</text>
</svg></body></html>
